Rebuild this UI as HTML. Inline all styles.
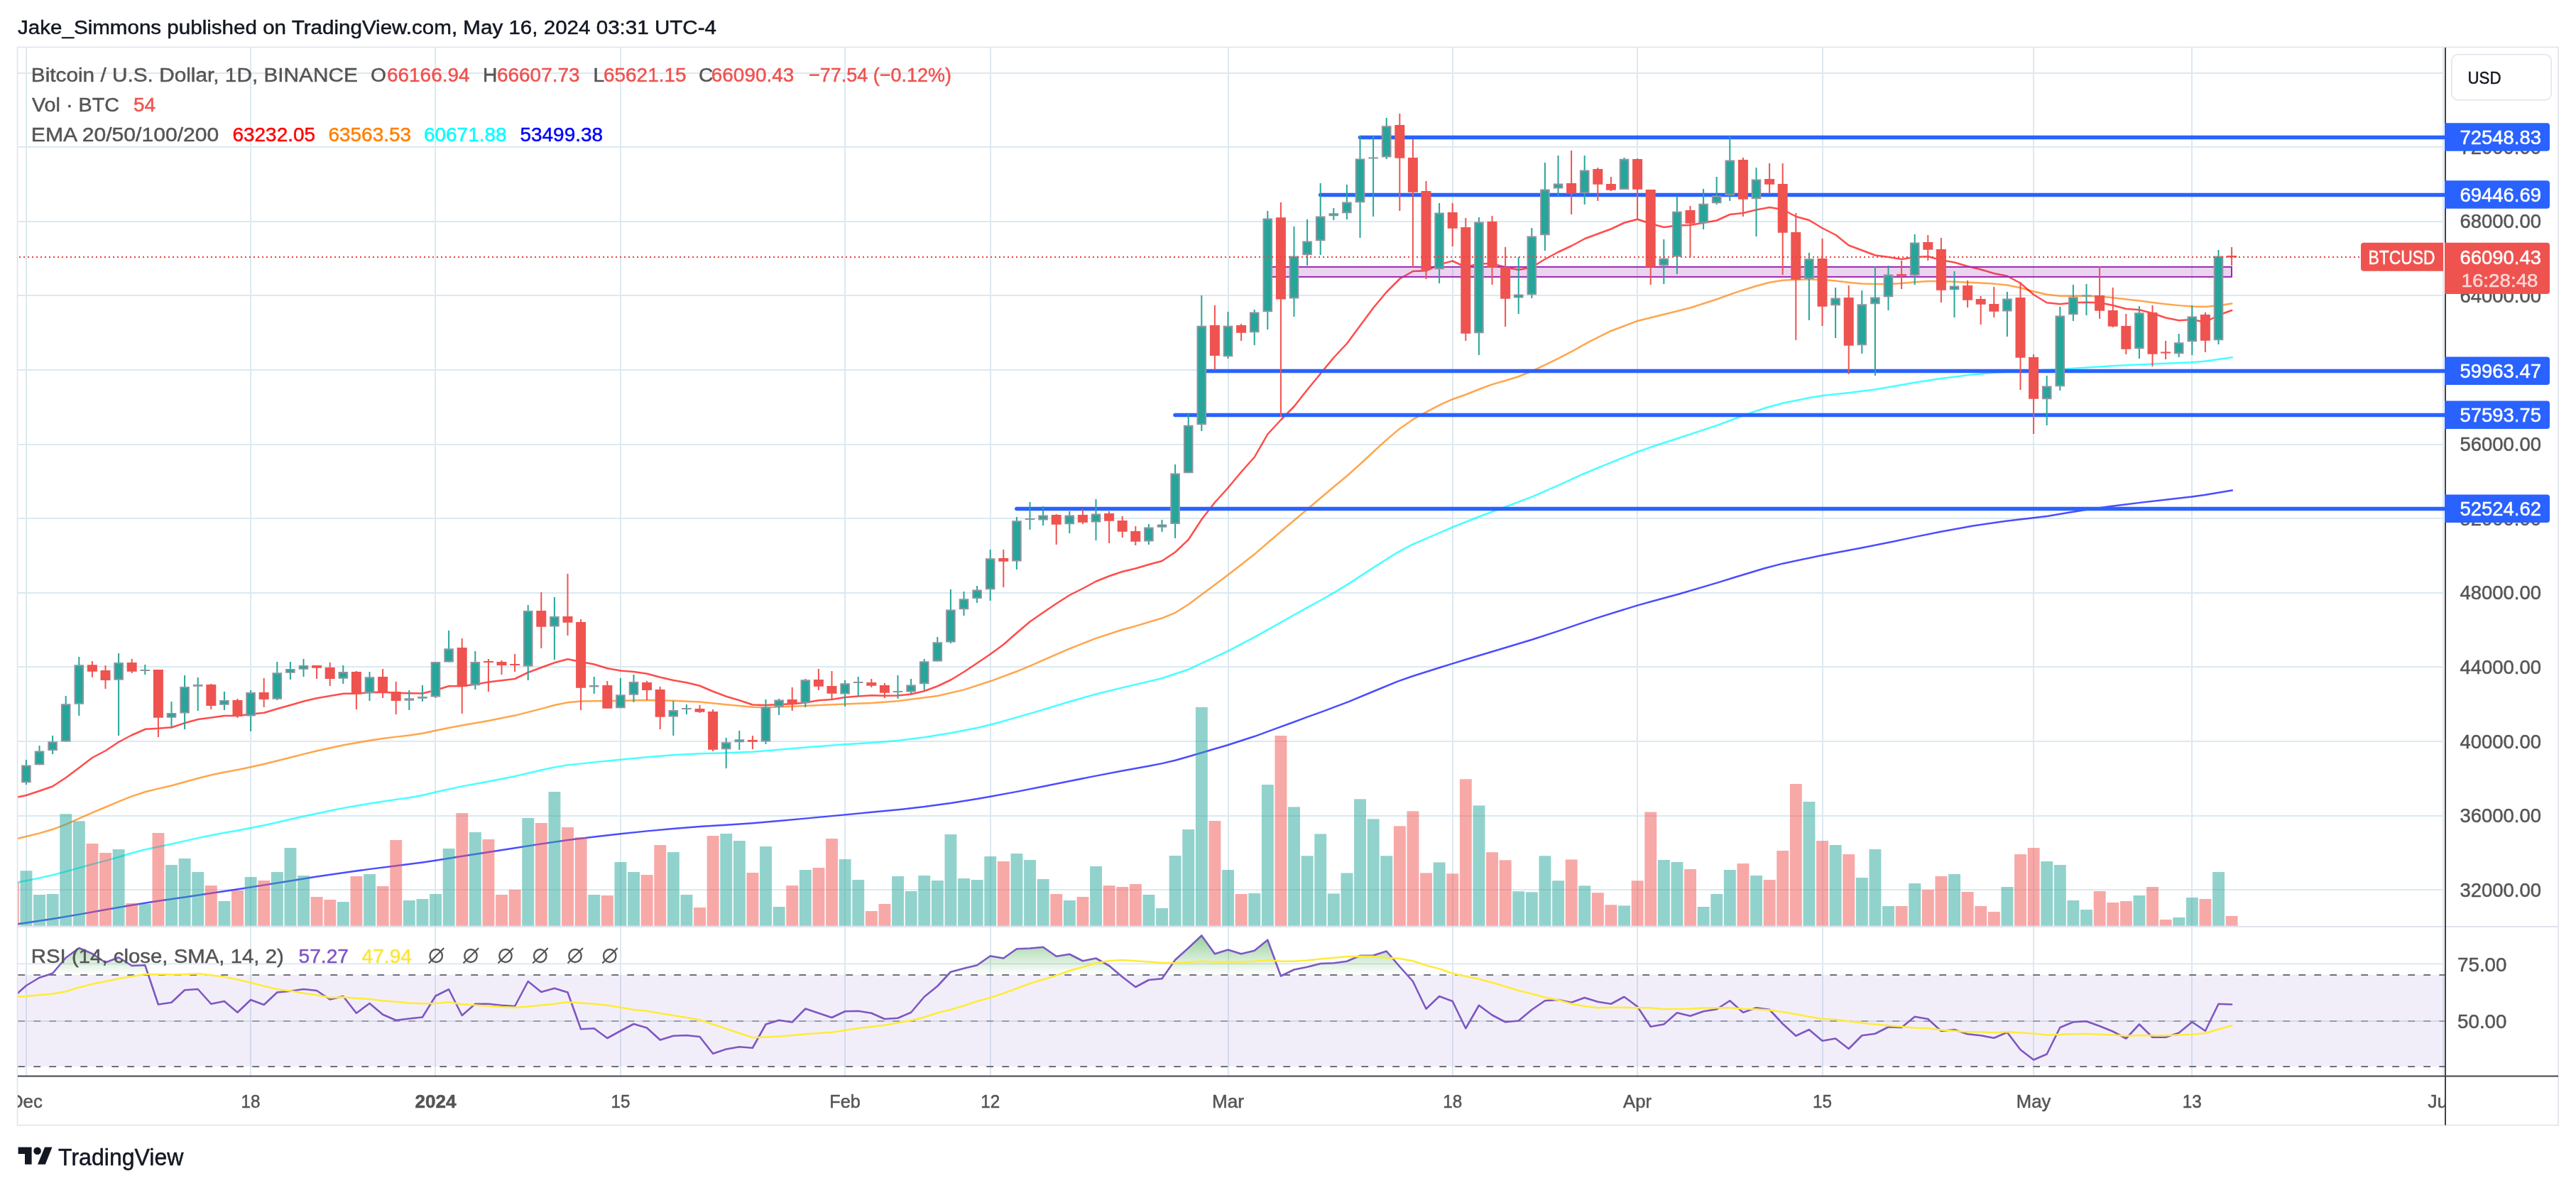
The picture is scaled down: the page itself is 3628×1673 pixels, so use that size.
<!DOCTYPE html>
<html><head><meta charset="utf-8"><title>BTCUSD chart</title>
<style>html,body{margin:0;padding:0;background:#fff;}body{width:3628px;height:1673px;overflow:hidden;}svg{display:block;will-change:transform;}text{white-space:pre;}</style></head>
<body>
<svg width="3628" height="1673" viewBox="0 0 3628 1673" font-family='"Liberation Sans", sans-serif'>
<defs>
<linearGradient id="gg" gradientUnits="userSpaceOnUse" x1="0" y1="1277" x2="0" y2="1373"><stop offset="0" stop-color="#4caf50" stop-opacity="1"/><stop offset="1" stop-color="#4caf50" stop-opacity="0"/></linearGradient>
<clipPath id="cpMain"><rect x="25" y="67" width="3419" height="1238"/></clipPath>
<clipPath id="cpRsi"><rect x="25" y="1305" width="3419" height="210.5"/></clipPath>
<clipPath id="cpTime"><rect x="25" y="1515.5" width="3418" height="69.0"/></clipPath>
<clipPath id="cp70"><rect x="25" y="1305" width="3419" height="68"/></clipPath>
</defs>
<rect width="3628" height="1673" fill="#fff"/>
<rect x="25" y="102" width="3417" height="2" fill="#dce9f1"/>
<rect x="25" y="206" width="3417" height="2" fill="#dce9f1"/>
<rect x="25" y="311" width="3417" height="2" fill="#dce9f1"/>
<rect x="25" y="415" width="3417" height="2" fill="#dce9f1"/>
<rect x="25" y="520" width="3417" height="2" fill="#dce9f1"/>
<rect x="25" y="625" width="3417" height="2" fill="#dce9f1"/>
<rect x="25" y="729" width="3417" height="2" fill="#dce9f1"/>
<rect x="25" y="834" width="3417" height="2" fill="#dce9f1"/>
<rect x="25" y="938" width="3417" height="2" fill="#dce9f1"/>
<rect x="25" y="1043" width="3417" height="2" fill="#dce9f1"/>
<rect x="25" y="1148" width="3417" height="2" fill="#dce9f1"/>
<rect x="25" y="1252" width="3417" height="2" fill="#dce9f1"/>
<rect x="25" y="1356.3" width="3417" height="2" fill="#dce9f1"/>
<rect x="25" y="1437" width="3417" height="2" fill="#dce9f1"/>
<rect x="36" y="67" width="2" height="1448.5" fill="#dce9f1"/>
<rect x="352" y="67" width="2" height="1448.5" fill="#dce9f1"/>
<rect x="612" y="67" width="2" height="1448.5" fill="#dce9f1"/>
<rect x="873" y="67" width="2" height="1448.5" fill="#dce9f1"/>
<rect x="1189" y="67" width="2" height="1448.5" fill="#dce9f1"/>
<rect x="1394" y="67" width="2" height="1448.5" fill="#dce9f1"/>
<rect x="1729" y="67" width="2" height="1448.5" fill="#dce9f1"/>
<rect x="2045" y="67" width="2" height="1448.5" fill="#dce9f1"/>
<rect x="2305" y="67" width="2" height="1448.5" fill="#dce9f1"/>
<rect x="2566" y="67" width="2" height="1448.5" fill="#dce9f1"/>
<rect x="2863" y="67" width="2" height="1448.5" fill="#dce9f1"/>
<rect x="3086" y="67" width="2" height="1448.5" fill="#dce9f1"/>
<rect x="3440" y="67" width="2" height="1448.5" fill="#dce9f1"/>
<g clip-path="url(#cpMain)">
<polyline points="25,1301.25 37,1299.55 74,1294.04 112,1287.64 149,1281.02 185,1274.71 223,1268.84 260,1263.47 298,1257.78 335,1252.19 372,1246.38 409,1240.44 446,1234.6 484,1228.9 521,1223.88 558,1219.19 595,1214.46 613.5,1211.76 650.75,1205.75 688,1199.99 725,1194.27 762.5,1188.36 799.5,1183.07 836.75,1178.5 874,1174.31 911.25,1170.37 948.25,1166.94 985.5,1164.12 1022.75,1161.81 1060,1159.31 1097.25,1156.12 1134.25,1152.63 1190,1147.38 1227.5,1143.86 1264.5,1140.26 1301.75,1136.06 1339,1130.94 1376.25,1125.03 1394.75,1121.84 1432,1114.88 1469.25,1107.5 1506.5,1099.99 1543.5,1092.64 1580.75,1085.56 1618,1078.78 1636.5,1075.14 1655.25,1070.67 1673.75,1065.58 1692.5,1059.98 1711,1054.46 1729,1049.21 1767.5,1036.8 1785,1030.4 1800,1024.93 1821.04,1017.28 1842.09,1009.41 1861.03,1002.62 1898.91,988.45 1934.68,973.49 1968.35,959.67 1989.39,952.21 2046.21,934.32 2065.15,928.54 2098.82,918.45 2157.74,900.78 2195.62,888.33 2229.29,876.82 2250.34,869.93 2305.89,852.59 2326.09,847 2363.97,836.77 2418.69,820.59 2443.94,812.75 2485.4,800.25 2511.8,793.41 2566.15,781.94 2622.05,771.42 2667.08,762.49 2698.14,755.87 2732.3,748.92 2778.88,740.56 2825.47,733.7 2863.98,729.32 2884.47,726.68 2909.32,722.58 2940.37,717.54 2974.53,712.68 3018.01,707.38 3052.17,703.54 3086.96,699.54 3104.97,697.05 3143.79,690.56" fill="none" stroke="#0000ff" stroke-width="2.5" stroke-linejoin="round" stroke-linecap="round" stroke-opacity="0.7"/>
<polyline points="25,1242.5 37,1240.28 55.75,1236.35 74,1232.23 93,1227.38 112,1221.99 130,1217.06 149,1212.12 167,1206.94 185,1201.46 205,1196.2 223,1192.42 242,1188.51 260,1184.37 279,1180.12 298,1176.2 316,1172.85 335,1169.52 353,1166.05 372,1162.19 391,1158 409,1153.75 428,1149.45 446,1145.68 465,1141.69 484,1137.89 502,1134.73 521,1131.52 539,1128.66 558,1125.88 577,1123.22 595,1119.97 613.5,1115.59 650.75,1107.38 688,1100.43 725,1093.15 762.5,1084.52 781,1080.38 799.5,1077.38 836.75,1073.38 874,1069.75 911.25,1066.18 948.25,1063.25 985.5,1061.31 1022.75,1060.31 1060,1058.81 1097.25,1055.87 1134.25,1052.58 1190.25,1048.37 1227.5,1045.93 1264.5,1042.88 1301.75,1038.31 1339,1032.19 1376.25,1024.93 1400,1019.3 1455,1003.62 1510,987.06 1543.5,977.5 1580.75,968.34 1636.5,955.23 1673.75,942.72 1729,917.15 1767.5,896.93 1785,887.1 1821.04,866.76 1842.09,855.17 1861.03,844.72 1879.97,833.88 1898.91,822.33 1934.68,799.13 1968.35,777.8 1989.39,766.66 2046.21,742.24 2065.15,734.77 2084.09,727.23 2119.87,713.8 2157.74,699.63 2195.62,683.03 2229.29,667.73 2250.34,658.78 2305.89,636.53 2326.09,629.31 2363.97,617.02 2418.63,598.86 2437.27,592.02 2462.11,582.64 2486.96,574.25 2511.8,567.58 2549.07,559.98 2566.15,557.21 2586.34,554.89 2604.97,553.03 2642.24,548.17 2667.08,544.03 2698.14,538.44 2732.3,533.14 2778.88,527.38 2806.83,524.94 2863.98,521.87 2909.32,519.46 2940.37,517.4 2974.53,515.29 3018.01,513.2 3052.17,511.76 3086.96,510.34 3104.97,508.84 3143.79,503.29" fill="none" stroke="#00ffff" stroke-width="2.5" stroke-linejoin="round" stroke-linecap="round" stroke-opacity="0.72"/>
<polyline points="25,1180.75 37,1178.04 55.75,1173.34 74,1168.06 93,1160.94 112,1152.38 130,1144.35 149,1136.52 167,1128.94 185,1121.62 205,1115.05 223,1110.61 242,1106.25 260,1101.32 279,1096 298,1091.25 316,1087.48 335,1083.95 353,1080.24 372,1075.94 391,1071.31 409,1066.69 428,1061.88 446,1057.56 465,1053.19 484,1049.2 502,1045.98 521,1042.77 539,1040.03 558,1037.62 577,1035.41 595,1032.73 614,1028.75 632,1024.97 650.75,1021.58 688,1014.93 725,1007.59 762.5,998.14 781,993 799.5,989.2 818.25,987.56 836.75,987.13 855.5,987.06 874,986.88 892.5,986.19 911.25,985.88 929.75,986.31 948.25,986.79 985.5,988.56 1022.75,992.25 1060,995.84 1078.5,996.25 1097.25,995.58 1134.25,994 1171.5,992.25 1208.75,990.83 1227.5,990.12 1265,987.26 1320.5,980 1357.5,971.39 1394.75,959.31 1432,945.53 1450.5,937.84 1469.25,929.65 1506.5,913.47 1543.5,898.84 1580.75,886.8 1599.5,881.6 1636.5,870.57 1655.25,862.78 1673.75,851.3 1692.5,837.16 1729,810.05 1767.5,779.92 1785,764.8 1878.25,685.76 1897,670.26 1915.5,653.75 1934,636.49 1952.75,619.38 1971.25,603.67 1990,590.71 2008.5,580.38 2027,570.53 2045.75,562.23 2064.25,555.77 2083,548.28 2101.5,541.33 2120.25,535.98 2138.75,530.27 2157.5,522.72 2176,513.94 2194.5,504.91 2213.25,495.22 2231.75,484.85 2240,480.34 2269,465.97 2306.25,451.94 2343.5,442.67 2380.5,433.46 2417.75,421.47 2436.5,414.66 2455,408.44 2473.5,402.71 2492.25,397.67 2510.75,394.82 2529.5,393.69 2548,393.38 2566.5,393.87 2585.25,395.51 2603.75,397.74 2622.5,399.44 2641,400.12 2659.5,400 2678.25,398.99 2696.75,397.26 2715.5,395.94 2734,395.94 2752.5,396.68 2771.25,397.63 2789.75,398.62 2808.25,399.62 2827,401.51 2845.5,405.3 2864.25,410.46 2882.75,414.74 2901.5,416.69 2920,416.81 2938.5,416.75 2957.25,417.5 2975.75,419.24 2994.5,421.44 3013,423.56 3031.5,425.93 3050.25,428.32 3068.75,430.12 3087.5,431.57 3106,431.94 3124.5,430.2 3143.25,427.5" fill="none" stroke="#ff8000" stroke-width="2.5" stroke-linejoin="round" stroke-linecap="round" stroke-opacity="0.7"/>
<polyline points="25,1122.5 37,1120 55.75,1113.75 74,1107.5 93,1095 112,1080.75 130,1067 149,1057 167,1045 185,1035.5 205,1026.75 223,1025.75 242,1024.25 260,1018.25 279,1013 298,1010.5 316,1008 335,1008 353,1005.75 372,1003.75 391,998 409,993 428,987.5 446,983.25 465,980 484,976.75 502,976.75 521,975 539,974.75 558,975.75 577,976.25 595,976.5 613.5,972 632,966.25 650.75,966.25 669.25,963.75 688,960.5 706.5,958.25 725,956 743.75,947 762.5,940 781,933.25 799.5,928.25 818.25,932 836.75,935.5 855.5,941.25 874,944.5 892.5,946 911.25,948.75 929.75,953.75 948.25,958 967,961.25 985.5,965.75 1004.25,973.75 1022.75,980.75 1041.5,986.25 1060,992.5 1078.5,993 1097.25,992 1115.75,991.25 1134.25,989.5 1153,986.25 1171.5,985 1190.25,982 1208.75,980.5 1227.5,979.25 1246,979.75 1264.5,979.5 1283.25,977.5 1301.75,973.25 1320.5,966.25 1339,957.5 1357.5,946.25 1376.25,933.75 1394.75,921.25 1413.5,907.5 1432,891.25 1450.5,875.5 1469.25,862.5 1487.75,850 1506.5,838 1525,828.75 1543.5,818.75 1562.25,811.25 1580.75,805 1599.5,800.5 1618,795 1636.5,790 1655.25,777.5 1673.75,760 1692.5,731.25 1711,707.5 1729.5,687 1748.25,664.5 1766.75,643.75 1785.5,611.25 1804,591.25 1822.5,572.5 1841.25,548.75 1859.75,526.25 1878.25,503.75 1897,483.75 1915.5,458.75 1934,433.75 1952.75,411.25 1971.5,392.5 1990,382 2008.5,381.25 2027.25,372.5 2045.75,367.5 2064.5,376.25 2083,371.25 2101.5,371.25 2120.25,376.25 2138.75,380 2157.5,376.25 2176,365 2194.5,355 2213.25,346.25 2231.75,336.25 2250.5,329.25 2269,322.5 2287.5,313.75 2306.25,308.75 2324.75,315 2343.5,320 2362,317.5 2380.5,317 2399.25,313.75 2417.75,310.5 2436.5,302 2455,300 2473.5,295.5 2492.25,292 2510.75,295 2529.5,305 2548,310 2566.5,321.25 2585.25,330.75 2603.75,345.5 2622.5,352.5 2641,359.5 2659.5,362 2678.25,365 2696.75,362 2715.5,361.25 2734,366.25 2752.5,369.5 2771.25,375 2789.75,379.5 2808.25,385 2827,388.75 2845.5,398.75 2864.25,415 2882.75,426.25 2901.5,428.25 2920,426.25 2938.5,425.75 2957.25,426.25 2975.75,430 2994.5,435 3013,436.25 3031.5,441.25 3050.25,447.5 3068.75,451.25 3087.5,450 3106,453.75 3124.5,443.75 3143.25,437" fill="none" stroke="#ff0000" stroke-width="2.5" stroke-linejoin="round" stroke-linecap="round" stroke-opacity="0.7"/>
<rect x="9.9" y="1242" width="16.9" height="61.75" fill="#ef5350" fill-opacity="0.5"/>
<rect x="28.5" y="1226.25" width="16.9" height="77.5" fill="#26a69a" fill-opacity="0.5"/>
<rect x="47.1" y="1260" width="16.9" height="43.75" fill="#26a69a" fill-opacity="0.5"/>
<rect x="65.7" y="1259" width="16.9" height="44.75" fill="#26a69a" fill-opacity="0.5"/>
<rect x="84.3" y="1146.25" width="16.9" height="157.5" fill="#26a69a" fill-opacity="0.5"/>
<rect x="102.9" y="1156.25" width="16.9" height="147.5" fill="#26a69a" fill-opacity="0.5"/>
<rect x="121.5" y="1188" width="16.9" height="115.75" fill="#ef5350" fill-opacity="0.5"/>
<rect x="140.1" y="1201" width="16.9" height="102.75" fill="#ef5350" fill-opacity="0.5"/>
<rect x="158.7" y="1196" width="16.9" height="107.75" fill="#26a69a" fill-opacity="0.5"/>
<rect x="177.3" y="1272" width="16.9" height="31.75" fill="#ef5350" fill-opacity="0.5"/>
<rect x="195.9" y="1273" width="16.9" height="30.75" fill="#26a69a" fill-opacity="0.5"/>
<rect x="214.5" y="1173" width="16.9" height="130.75" fill="#ef5350" fill-opacity="0.5"/>
<rect x="233.1" y="1218" width="16.9" height="85.75" fill="#26a69a" fill-opacity="0.5"/>
<rect x="251.7" y="1209" width="16.9" height="94.75" fill="#26a69a" fill-opacity="0.5"/>
<rect x="270.3" y="1228" width="16.9" height="75.75" fill="#26a69a" fill-opacity="0.5"/>
<rect x="288.9" y="1247" width="16.9" height="56.75" fill="#ef5350" fill-opacity="0.5"/>
<rect x="307.5" y="1269" width="16.9" height="34.75" fill="#26a69a" fill-opacity="0.5"/>
<rect x="326.1" y="1254" width="16.9" height="49.75" fill="#ef5350" fill-opacity="0.5"/>
<rect x="344.7" y="1235" width="16.9" height="68.75" fill="#26a69a" fill-opacity="0.5"/>
<rect x="363.3" y="1240" width="16.9" height="63.75" fill="#ef5350" fill-opacity="0.5"/>
<rect x="381.9" y="1228" width="16.9" height="75.75" fill="#26a69a" fill-opacity="0.5"/>
<rect x="400.5" y="1194" width="16.9" height="109.75" fill="#26a69a" fill-opacity="0.5"/>
<rect x="419.1" y="1233" width="16.9" height="70.75" fill="#26a69a" fill-opacity="0.5"/>
<rect x="437.7" y="1263" width="16.9" height="40.75" fill="#ef5350" fill-opacity="0.5"/>
<rect x="456.3" y="1267" width="16.9" height="36.75" fill="#ef5350" fill-opacity="0.5"/>
<rect x="474.9" y="1270" width="16.9" height="33.75" fill="#26a69a" fill-opacity="0.5"/>
<rect x="493.5" y="1234" width="16.9" height="69.75" fill="#ef5350" fill-opacity="0.5"/>
<rect x="512.1" y="1231" width="16.9" height="72.75" fill="#26a69a" fill-opacity="0.5"/>
<rect x="530.7" y="1248" width="16.9" height="55.75" fill="#ef5350" fill-opacity="0.5"/>
<rect x="549.3" y="1183" width="16.9" height="120.75" fill="#ef5350" fill-opacity="0.5"/>
<rect x="567.9" y="1268" width="16.9" height="35.75" fill="#26a69a" fill-opacity="0.5"/>
<rect x="586.5" y="1266" width="16.9" height="37.75" fill="#26a69a" fill-opacity="0.5"/>
<rect x="605.1" y="1259" width="16.9" height="44.75" fill="#26a69a" fill-opacity="0.5"/>
<rect x="623.7" y="1195" width="16.9" height="108.75" fill="#26a69a" fill-opacity="0.5"/>
<rect x="642.3" y="1145" width="16.9" height="158.75" fill="#ef5350" fill-opacity="0.5"/>
<rect x="660.9" y="1172" width="16.9" height="131.75" fill="#26a69a" fill-opacity="0.5"/>
<rect x="679.5" y="1182" width="16.9" height="121.75" fill="#ef5350" fill-opacity="0.5"/>
<rect x="698.1" y="1260" width="16.9" height="43.75" fill="#ef5350" fill-opacity="0.5"/>
<rect x="716.7" y="1253" width="16.9" height="50.75" fill="#ef5350" fill-opacity="0.5"/>
<rect x="735.3" y="1152" width="16.9" height="151.75" fill="#26a69a" fill-opacity="0.5"/>
<rect x="753.9" y="1159" width="16.9" height="144.75" fill="#ef5350" fill-opacity="0.5"/>
<rect x="772.5" y="1115" width="16.9" height="188.75" fill="#26a69a" fill-opacity="0.5"/>
<rect x="791.1" y="1165" width="16.9" height="138.75" fill="#ef5350" fill-opacity="0.5"/>
<rect x="809.7" y="1179" width="16.9" height="124.75" fill="#ef5350" fill-opacity="0.5"/>
<rect x="828.3" y="1260" width="16.9" height="43.75" fill="#26a69a" fill-opacity="0.5"/>
<rect x="846.9" y="1261" width="16.9" height="42.75" fill="#ef5350" fill-opacity="0.5"/>
<rect x="865.5" y="1214" width="16.9" height="89.75" fill="#26a69a" fill-opacity="0.5"/>
<rect x="884.1" y="1228" width="16.9" height="75.75" fill="#26a69a" fill-opacity="0.5"/>
<rect x="902.7" y="1232" width="16.9" height="71.75" fill="#ef5350" fill-opacity="0.5"/>
<rect x="921.3" y="1190" width="16.9" height="113.75" fill="#ef5350" fill-opacity="0.5"/>
<rect x="939.9" y="1200" width="16.9" height="103.75" fill="#26a69a" fill-opacity="0.5"/>
<rect x="958.5" y="1260" width="16.9" height="43.75" fill="#26a69a" fill-opacity="0.5"/>
<rect x="977.1" y="1278" width="16.9" height="25.75" fill="#ef5350" fill-opacity="0.5"/>
<rect x="995.7" y="1177" width="16.9" height="126.75" fill="#ef5350" fill-opacity="0.5"/>
<rect x="1014.3" y="1174" width="16.9" height="129.75" fill="#26a69a" fill-opacity="0.5"/>
<rect x="1032.9" y="1184" width="16.9" height="119.75" fill="#26a69a" fill-opacity="0.5"/>
<rect x="1051.5" y="1229" width="16.9" height="74.75" fill="#ef5350" fill-opacity="0.5"/>
<rect x="1070.1" y="1192" width="16.9" height="111.75" fill="#26a69a" fill-opacity="0.5"/>
<rect x="1088.7" y="1277" width="16.9" height="26.75" fill="#26a69a" fill-opacity="0.5"/>
<rect x="1107.3" y="1247" width="16.9" height="56.75" fill="#ef5350" fill-opacity="0.5"/>
<rect x="1125.9" y="1225" width="16.9" height="78.75" fill="#26a69a" fill-opacity="0.5"/>
<rect x="1144.5" y="1222" width="16.9" height="81.75" fill="#ef5350" fill-opacity="0.5"/>
<rect x="1163.1" y="1181" width="16.9" height="122.75" fill="#ef5350" fill-opacity="0.5"/>
<rect x="1181.7" y="1210" width="16.9" height="93.75" fill="#26a69a" fill-opacity="0.5"/>
<rect x="1200.3" y="1239" width="16.9" height="64.75" fill="#26a69a" fill-opacity="0.5"/>
<rect x="1218.9" y="1283" width="16.9" height="20.75" fill="#ef5350" fill-opacity="0.5"/>
<rect x="1237.5" y="1273" width="16.9" height="30.75" fill="#ef5350" fill-opacity="0.5"/>
<rect x="1256.1" y="1234" width="16.9" height="69.75" fill="#26a69a" fill-opacity="0.5"/>
<rect x="1274.7" y="1255" width="16.9" height="48.75" fill="#26a69a" fill-opacity="0.5"/>
<rect x="1293.3" y="1233" width="16.9" height="70.75" fill="#26a69a" fill-opacity="0.5"/>
<rect x="1311.9" y="1240" width="16.9" height="63.75" fill="#26a69a" fill-opacity="0.5"/>
<rect x="1330.5" y="1175" width="16.9" height="128.75" fill="#26a69a" fill-opacity="0.5"/>
<rect x="1349.1" y="1237" width="16.9" height="66.75" fill="#26a69a" fill-opacity="0.5"/>
<rect x="1367.7" y="1239" width="16.9" height="64.75" fill="#26a69a" fill-opacity="0.5"/>
<rect x="1386.3" y="1206" width="16.9" height="97.75" fill="#26a69a" fill-opacity="0.5"/>
<rect x="1404.9" y="1213" width="16.9" height="90.75" fill="#ef5350" fill-opacity="0.5"/>
<rect x="1423.5" y="1202" width="16.9" height="101.75" fill="#26a69a" fill-opacity="0.5"/>
<rect x="1442.1" y="1211" width="16.9" height="92.75" fill="#26a69a" fill-opacity="0.5"/>
<rect x="1460.7" y="1238" width="16.9" height="65.75" fill="#26a69a" fill-opacity="0.5"/>
<rect x="1479.3" y="1259" width="16.9" height="44.75" fill="#ef5350" fill-opacity="0.5"/>
<rect x="1497.9" y="1268" width="16.9" height="35.75" fill="#26a69a" fill-opacity="0.5"/>
<rect x="1516.5" y="1263" width="16.9" height="40.75" fill="#ef5350" fill-opacity="0.5"/>
<rect x="1535.1" y="1220" width="16.9" height="83.75" fill="#26a69a" fill-opacity="0.5"/>
<rect x="1553.7" y="1247" width="16.9" height="56.75" fill="#ef5350" fill-opacity="0.5"/>
<rect x="1572.3" y="1249" width="16.9" height="54.75" fill="#ef5350" fill-opacity="0.5"/>
<rect x="1590.9" y="1245" width="16.9" height="58.75" fill="#ef5350" fill-opacity="0.5"/>
<rect x="1609.5" y="1260" width="16.9" height="43.75" fill="#26a69a" fill-opacity="0.5"/>
<rect x="1628.1" y="1279" width="16.9" height="24.75" fill="#26a69a" fill-opacity="0.5"/>
<rect x="1646.7" y="1205" width="16.9" height="98.75" fill="#26a69a" fill-opacity="0.5"/>
<rect x="1665.3" y="1168" width="16.9" height="135.75" fill="#26a69a" fill-opacity="0.5"/>
<rect x="1683.9" y="995.9" width="16.9" height="307.85" fill="#26a69a" fill-opacity="0.5"/>
<rect x="1702.5" y="1156" width="16.9" height="147.75" fill="#ef5350" fill-opacity="0.5"/>
<rect x="1721.1" y="1225" width="16.9" height="78.75" fill="#26a69a" fill-opacity="0.5"/>
<rect x="1739.7" y="1259" width="16.9" height="44.75" fill="#ef5350" fill-opacity="0.5"/>
<rect x="1758.3" y="1258" width="16.9" height="45.75" fill="#26a69a" fill-opacity="0.5"/>
<rect x="1776.9" y="1105" width="16.9" height="198.75" fill="#26a69a" fill-opacity="0.5"/>
<rect x="1795.5" y="1036" width="16.9" height="267.75" fill="#ef5350" fill-opacity="0.5"/>
<rect x="1814.1" y="1136.37" width="16.9" height="167.38" fill="#26a69a" fill-opacity="0.5"/>
<rect x="1832.7" y="1205.31" width="16.9" height="98.44" fill="#26a69a" fill-opacity="0.5"/>
<rect x="1851.3" y="1174.39" width="16.9" height="129.36" fill="#26a69a" fill-opacity="0.5"/>
<rect x="1869.9" y="1258.36" width="16.9" height="45.39" fill="#26a69a" fill-opacity="0.5"/>
<rect x="1888.5" y="1229.42" width="16.9" height="74.33" fill="#26a69a" fill-opacity="0.5"/>
<rect x="1907.1" y="1125.31" width="16.9" height="178.44" fill="#26a69a" fill-opacity="0.5"/>
<rect x="1925.7" y="1153.4" width="16.9" height="150.35" fill="#26a69a" fill-opacity="0.5"/>
<rect x="1944.3" y="1205.31" width="16.9" height="98.44" fill="#26a69a" fill-opacity="0.5"/>
<rect x="1962.9" y="1163.32" width="16.9" height="140.43" fill="#ef5350" fill-opacity="0.5"/>
<rect x="1981.5" y="1142.33" width="16.9" height="161.42" fill="#ef5350" fill-opacity="0.5"/>
<rect x="2000.1" y="1229.42" width="16.9" height="74.33" fill="#ef5350" fill-opacity="0.5"/>
<rect x="2018.7" y="1214.39" width="16.9" height="89.36" fill="#26a69a" fill-opacity="0.5"/>
<rect x="2037.3" y="1230.27" width="16.9" height="73.48" fill="#ef5350" fill-opacity="0.5"/>
<rect x="2055.9" y="1097.23" width="16.9" height="206.52" fill="#ef5350" fill-opacity="0.5"/>
<rect x="2074.5" y="1134.39" width="16.9" height="169.36" fill="#26a69a" fill-opacity="0.5"/>
<rect x="2093.1" y="1200.2" width="16.9" height="103.55" fill="#ef5350" fill-opacity="0.5"/>
<rect x="2111.7" y="1211.27" width="16.9" height="92.48" fill="#ef5350" fill-opacity="0.5"/>
<rect x="2130.3" y="1255.24" width="16.9" height="48.51" fill="#26a69a" fill-opacity="0.5"/>
<rect x="2148.9" y="1256.37" width="16.9" height="47.38" fill="#26a69a" fill-opacity="0.5"/>
<rect x="2167.5" y="1205.31" width="16.9" height="98.44" fill="#26a69a" fill-opacity="0.5"/>
<rect x="2186.1" y="1240.2" width="16.9" height="63.55" fill="#26a69a" fill-opacity="0.5"/>
<rect x="2204.7" y="1210.42" width="16.9" height="93.33" fill="#ef5350" fill-opacity="0.5"/>
<rect x="2223.3" y="1247.3" width="16.9" height="56.45" fill="#26a69a" fill-opacity="0.5"/>
<rect x="2241.9" y="1257.23" width="16.9" height="46.52" fill="#ef5350" fill-opacity="0.5"/>
<rect x="2260.5" y="1274.25" width="16.9" height="29.5" fill="#ef5350" fill-opacity="0.5"/>
<rect x="2279.1" y="1275.38" width="16.9" height="28.37" fill="#26a69a" fill-opacity="0.5"/>
<rect x="2297.7" y="1240.2" width="16.9" height="63.55" fill="#ef5350" fill-opacity="0.5"/>
<rect x="2316.3" y="1143.47" width="16.9" height="160.28" fill="#ef5350" fill-opacity="0.5"/>
<rect x="2334.9" y="1211" width="16.9" height="92.75" fill="#26a69a" fill-opacity="0.5"/>
<rect x="2353.5" y="1214" width="16.9" height="89.75" fill="#26a69a" fill-opacity="0.5"/>
<rect x="2372.1" y="1224" width="16.9" height="79.75" fill="#ef5350" fill-opacity="0.5"/>
<rect x="2390.7" y="1277" width="16.9" height="26.75" fill="#26a69a" fill-opacity="0.5"/>
<rect x="2409.3" y="1259" width="16.9" height="44.75" fill="#26a69a" fill-opacity="0.5"/>
<rect x="2427.9" y="1225" width="16.9" height="78.75" fill="#26a69a" fill-opacity="0.5"/>
<rect x="2446.5" y="1216" width="16.9" height="87.75" fill="#ef5350" fill-opacity="0.5"/>
<rect x="2465.1" y="1233" width="16.9" height="70.75" fill="#26a69a" fill-opacity="0.5"/>
<rect x="2483.7" y="1239" width="16.9" height="64.75" fill="#ef5350" fill-opacity="0.5"/>
<rect x="2502.3" y="1198" width="16.9" height="105.75" fill="#ef5350" fill-opacity="0.5"/>
<rect x="2520.9" y="1104" width="16.9" height="199.75" fill="#ef5350" fill-opacity="0.5"/>
<rect x="2539.5" y="1129" width="16.9" height="174.75" fill="#26a69a" fill-opacity="0.5"/>
<rect x="2558.1" y="1184" width="16.9" height="119.75" fill="#ef5350" fill-opacity="0.5"/>
<rect x="2576.7" y="1190" width="16.9" height="113.75" fill="#26a69a" fill-opacity="0.5"/>
<rect x="2595.3" y="1203" width="16.9" height="100.75" fill="#ef5350" fill-opacity="0.5"/>
<rect x="2613.9" y="1236" width="16.9" height="67.75" fill="#26a69a" fill-opacity="0.5"/>
<rect x="2632.5" y="1196" width="16.9" height="107.75" fill="#26a69a" fill-opacity="0.5"/>
<rect x="2651.1" y="1276" width="16.9" height="27.75" fill="#26a69a" fill-opacity="0.5"/>
<rect x="2669.7" y="1276" width="16.9" height="27.75" fill="#ef5350" fill-opacity="0.5"/>
<rect x="2688.3" y="1244" width="16.9" height="59.75" fill="#26a69a" fill-opacity="0.5"/>
<rect x="2706.9" y="1253" width="16.9" height="50.75" fill="#ef5350" fill-opacity="0.5"/>
<rect x="2725.5" y="1234" width="16.9" height="69.75" fill="#ef5350" fill-opacity="0.5"/>
<rect x="2744.1" y="1231" width="16.9" height="72.75" fill="#26a69a" fill-opacity="0.5"/>
<rect x="2762.7" y="1256" width="16.9" height="47.75" fill="#ef5350" fill-opacity="0.5"/>
<rect x="2781.3" y="1276" width="16.9" height="27.75" fill="#ef5350" fill-opacity="0.5"/>
<rect x="2799.9" y="1284" width="16.9" height="19.75" fill="#ef5350" fill-opacity="0.5"/>
<rect x="2818.5" y="1249" width="16.9" height="54.75" fill="#26a69a" fill-opacity="0.5"/>
<rect x="2837.1" y="1203" width="16.9" height="100.75" fill="#ef5350" fill-opacity="0.5"/>
<rect x="2855.7" y="1194" width="16.9" height="109.75" fill="#ef5350" fill-opacity="0.5"/>
<rect x="2874.3" y="1213" width="16.9" height="90.75" fill="#26a69a" fill-opacity="0.5"/>
<rect x="2892.9" y="1218" width="16.9" height="85.75" fill="#26a69a" fill-opacity="0.5"/>
<rect x="2911.5" y="1268" width="16.9" height="35.75" fill="#26a69a" fill-opacity="0.5"/>
<rect x="2930.1" y="1281" width="16.9" height="22.75" fill="#26a69a" fill-opacity="0.5"/>
<rect x="2948.7" y="1255" width="16.9" height="48.75" fill="#ef5350" fill-opacity="0.5"/>
<rect x="2967.3" y="1271" width="16.9" height="32.75" fill="#ef5350" fill-opacity="0.5"/>
<rect x="2985.9" y="1269" width="16.9" height="34.75" fill="#ef5350" fill-opacity="0.5"/>
<rect x="3004.5" y="1261" width="16.9" height="42.75" fill="#26a69a" fill-opacity="0.5"/>
<rect x="3023.1" y="1249" width="16.9" height="54.75" fill="#ef5350" fill-opacity="0.5"/>
<rect x="3041.7" y="1295" width="16.9" height="8.75" fill="#ef5350" fill-opacity="0.5"/>
<rect x="3060.3" y="1292" width="16.9" height="11.75" fill="#26a69a" fill-opacity="0.5"/>
<rect x="3078.9" y="1264" width="16.9" height="39.75" fill="#26a69a" fill-opacity="0.5"/>
<rect x="3097.5" y="1266" width="16.9" height="37.75" fill="#ef5350" fill-opacity="0.5"/>
<rect x="3116.1" y="1228" width="16.9" height="75.75" fill="#26a69a" fill-opacity="0.5"/>
<rect x="3134.7" y="1290" width="16.9" height="13.75" fill="#ef5350" fill-opacity="0.5"/>
<line x1="1915.5" y1="193.5" x2="3444" y2="193.5" stroke="#2962ff" stroke-width="5.6" stroke-linecap="round"/>
<line x1="1859.7" y1="274.5" x2="3444" y2="274.5" stroke="#2962ff" stroke-width="5.6" stroke-linecap="round"/>
<line x1="1692.3" y1="522.5" x2="3444" y2="522.5" stroke="#2962ff" stroke-width="5.6" stroke-linecap="round"/>
<line x1="1655.1" y1="584.5" x2="3444" y2="584.5" stroke="#2962ff" stroke-width="5.6" stroke-linecap="round"/>
<line x1="1431.9" y1="716.5" x2="3444" y2="716.5" stroke="#2962ff" stroke-width="5.6" stroke-linecap="round"/>
<rect x="1785.3" y="375.9" width="1357.7" height="14" fill="#9c27b0" fill-opacity="0.2" stroke="#9c27b0" stroke-width="2"/>
<rect x="35.9" y="1070" width="2" height="35" fill="#26a69a"/>
<rect x="30.1" y="1077.5" width="13.6" height="24.75" fill="#9194a0"/>
<rect x="32" y="1079.5" width="9.8" height="20.75" fill="#26a69a"/>
<rect x="54.5" y="1050" width="2" height="27.25" fill="#26a69a"/>
<rect x="48.7" y="1057.5" width="13.6" height="19.75" fill="#9194a0"/>
<rect x="50.6" y="1059.5" width="9.8" height="15.75" fill="#26a69a"/>
<rect x="73.1" y="1036" width="2" height="26" fill="#26a69a"/>
<rect x="67.3" y="1044.25" width="13.6" height="12.75" fill="#9194a0"/>
<rect x="69.2" y="1046.25" width="9.8" height="8.75" fill="#26a69a"/>
<rect x="91.7" y="980" width="2" height="64.5" fill="#26a69a"/>
<rect x="85.9" y="991.25" width="13.6" height="53.25" fill="#9194a0"/>
<rect x="87.8" y="993.25" width="9.8" height="49.25" fill="#26a69a"/>
<rect x="110.3" y="925" width="2" height="83" fill="#26a69a"/>
<rect x="104.5" y="936.25" width="13.6" height="55.5" fill="#9194a0"/>
<rect x="106.4" y="938.25" width="9.8" height="51.5" fill="#26a69a"/>
<rect x="128.9" y="931" width="2" height="22.75" fill="#ef5350"/>
<rect x="122.9" y="936.25" width="14" height="9.5" fill="#ef5350"/>
<rect x="147.5" y="937" width="2" height="33" fill="#ef5350"/>
<rect x="141.5" y="944" width="14" height="14" fill="#ef5350"/>
<rect x="166.1" y="920" width="2" height="116" fill="#26a69a"/>
<rect x="160.3" y="933" width="13.6" height="24.75" fill="#9194a0"/>
<rect x="162.2" y="935" width="9.8" height="20.75" fill="#26a69a"/>
<rect x="184.7" y="928" width="2" height="20" fill="#ef5350"/>
<rect x="178.7" y="933" width="14" height="12.75" fill="#ef5350"/>
<rect x="203.3" y="936" width="2" height="14" fill="#26a69a"/>
<rect x="197.5" y="943" width="13.6" height="2" fill="#9194a0"/>
<rect x="221.9" y="943" width="2" height="95" fill="#ef5350"/>
<rect x="215.9" y="943" width="14" height="67.75" fill="#ef5350"/>
<rect x="240.5" y="988" width="2" height="38" fill="#26a69a"/>
<rect x="234.7" y="1004" width="13.6" height="6.75" fill="#9194a0"/>
<rect x="236.6" y="1005.5" width="9.8" height="3.75" fill="#26a69a"/>
<rect x="259.1" y="951" width="2" height="76" fill="#26a69a"/>
<rect x="253.3" y="967" width="13.6" height="37.5" fill="#9194a0"/>
<rect x="255.2" y="969" width="9.8" height="33.5" fill="#26a69a"/>
<rect x="277.7" y="954" width="2" height="47" fill="#26a69a"/>
<rect x="271.9" y="964" width="13.6" height="2.75" fill="#9194a0"/>
<rect x="296.3" y="963" width="2" height="36" fill="#ef5350"/>
<rect x="290.3" y="964" width="14" height="30" fill="#ef5350"/>
<rect x="314.9" y="974" width="2" height="26" fill="#26a69a"/>
<rect x="309.1" y="986" width="13.6" height="6.75" fill="#9194a0"/>
<rect x="311" y="987.5" width="9.8" height="3.75" fill="#26a69a"/>
<rect x="333.5" y="984" width="2" height="27" fill="#ef5350"/>
<rect x="327.5" y="986" width="14" height="22.75" fill="#ef5350"/>
<rect x="352.1" y="972" width="2" height="58" fill="#26a69a"/>
<rect x="346.3" y="975" width="13.6" height="33.5" fill="#9194a0"/>
<rect x="348.2" y="977" width="9.8" height="29.5" fill="#26a69a"/>
<rect x="370.7" y="955" width="2" height="41" fill="#ef5350"/>
<rect x="364.7" y="975" width="14" height="10" fill="#ef5350"/>
<rect x="389.3" y="932" width="2" height="54" fill="#26a69a"/>
<rect x="383.5" y="947.25" width="13.6" height="37.5" fill="#9194a0"/>
<rect x="385.4" y="949.25" width="9.8" height="33.5" fill="#26a69a"/>
<rect x="407.9" y="932" width="2" height="25" fill="#26a69a"/>
<rect x="402.1" y="942" width="13.6" height="5.75" fill="#9194a0"/>
<rect x="404" y="943.5" width="9.8" height="2.75" fill="#26a69a"/>
<rect x="426.5" y="928" width="2" height="25" fill="#26a69a"/>
<rect x="420.7" y="937" width="13.6" height="5.75" fill="#9194a0"/>
<rect x="422.6" y="938.5" width="9.8" height="2.75" fill="#26a69a"/>
<rect x="445.1" y="937" width="2" height="19" fill="#ef5350"/>
<rect x="439.1" y="937" width="14" height="3.75" fill="#ef5350"/>
<rect x="463.7" y="933" width="2" height="33" fill="#ef5350"/>
<rect x="457.7" y="940" width="14" height="16" fill="#ef5350"/>
<rect x="482.3" y="937" width="2" height="26" fill="#26a69a"/>
<rect x="476.5" y="946" width="13.6" height="9.75" fill="#9194a0"/>
<rect x="478.4" y="948" width="9.8" height="5.75" fill="#26a69a"/>
<rect x="500.9" y="945" width="2" height="54" fill="#ef5350"/>
<rect x="494.9" y="946" width="14" height="31.5" fill="#ef5350"/>
<rect x="519.5" y="946" width="2" height="41" fill="#26a69a"/>
<rect x="513.7" y="953.25" width="13.6" height="23" fill="#9194a0"/>
<rect x="515.6" y="955.25" width="9.8" height="19" fill="#26a69a"/>
<rect x="538.1" y="942" width="2" height="41" fill="#ef5350"/>
<rect x="532.1" y="953" width="14" height="22" fill="#ef5350"/>
<rect x="556.7" y="960" width="2" height="46" fill="#ef5350"/>
<rect x="550.7" y="974" width="14" height="13" fill="#ef5350"/>
<rect x="575.3" y="972" width="2" height="28" fill="#26a69a"/>
<rect x="569.5" y="983.25" width="13.6" height="3.5" fill="#9194a0"/>
<rect x="593.9" y="965" width="2" height="23" fill="#26a69a"/>
<rect x="588.1" y="981" width="13.6" height="2.75" fill="#9194a0"/>
<rect x="612.5" y="932" width="2" height="51" fill="#26a69a"/>
<rect x="606.7" y="932" width="13.6" height="49.5" fill="#9194a0"/>
<rect x="608.6" y="934" width="9.8" height="45.5" fill="#26a69a"/>
<rect x="631.1" y="888" width="2" height="44.5" fill="#26a69a"/>
<rect x="625.3" y="913.25" width="13.6" height="19.25" fill="#9194a0"/>
<rect x="627.2" y="915.25" width="9.8" height="15.25" fill="#26a69a"/>
<rect x="649.7" y="899" width="2" height="106" fill="#ef5350"/>
<rect x="643.7" y="912" width="14" height="55" fill="#ef5350"/>
<rect x="668.3" y="917" width="2" height="54" fill="#26a69a"/>
<rect x="662.5" y="932" width="13.6" height="33.25" fill="#9194a0"/>
<rect x="664.4" y="934" width="9.8" height="29.25" fill="#26a69a"/>
<rect x="686.9" y="928" width="2" height="46" fill="#ef5350"/>
<rect x="680.9" y="931" width="14" height="2" fill="#ef5350"/>
<rect x="705.5" y="930" width="2" height="20" fill="#ef5350"/>
<rect x="699.5" y="932" width="14" height="5" fill="#ef5350"/>
<rect x="724.1" y="921" width="2" height="25" fill="#ef5350"/>
<rect x="718.1" y="935" width="14" height="2" fill="#ef5350"/>
<rect x="742.7" y="852" width="2" height="106" fill="#26a69a"/>
<rect x="736.9" y="860" width="13.6" height="78.5" fill="#9194a0"/>
<rect x="738.8" y="862" width="9.8" height="74.5" fill="#26a69a"/>
<rect x="761.3" y="834" width="2" height="79" fill="#ef5350"/>
<rect x="755.3" y="860" width="14" height="22.75" fill="#ef5350"/>
<rect x="779.9" y="841" width="2" height="88" fill="#26a69a"/>
<rect x="774.1" y="868" width="13.6" height="14.5" fill="#9194a0"/>
<rect x="776" y="870" width="9.8" height="10.5" fill="#26a69a"/>
<rect x="798.5" y="808" width="2" height="87" fill="#ef5350"/>
<rect x="792.5" y="868" width="14" height="8.75" fill="#ef5350"/>
<rect x="817.1" y="872" width="2" height="128" fill="#ef5350"/>
<rect x="811.1" y="876" width="14" height="92.75" fill="#ef5350"/>
<rect x="835.7" y="953" width="2" height="24" fill="#26a69a"/>
<rect x="829.9" y="965" width="13.6" height="2.5" fill="#9194a0"/>
<rect x="854.3" y="959" width="2" height="38.75" fill="#ef5350"/>
<rect x="848.3" y="965" width="14" height="32.75" fill="#ef5350"/>
<rect x="872.9" y="955" width="2" height="42.25" fill="#26a69a"/>
<rect x="867.1" y="978.25" width="13.6" height="19" fill="#9194a0"/>
<rect x="869" y="980.25" width="9.8" height="15" fill="#26a69a"/>
<rect x="891.5" y="950" width="2" height="39" fill="#26a69a"/>
<rect x="885.7" y="960" width="13.6" height="18.75" fill="#9194a0"/>
<rect x="887.6" y="962" width="9.8" height="14.75" fill="#26a69a"/>
<rect x="910.1" y="959" width="2" height="27" fill="#ef5350"/>
<rect x="904.1" y="961" width="14" height="11" fill="#ef5350"/>
<rect x="928.7" y="967" width="2" height="60" fill="#ef5350"/>
<rect x="922.7" y="971" width="14" height="38.75" fill="#ef5350"/>
<rect x="947.3" y="987" width="2" height="49" fill="#26a69a"/>
<rect x="941.5" y="1000" width="13.6" height="9.5" fill="#9194a0"/>
<rect x="943.4" y="1002" width="9.8" height="5.5" fill="#26a69a"/>
<rect x="965.9" y="992" width="2" height="14" fill="#26a69a"/>
<rect x="960.1" y="997" width="13.6" height="2" fill="#9194a0"/>
<rect x="984.5" y="993" width="2" height="11" fill="#ef5350"/>
<rect x="978.5" y="998" width="14" height="4.75" fill="#ef5350"/>
<rect x="1003.1" y="999" width="2" height="59" fill="#ef5350"/>
<rect x="997.1" y="1002" width="14" height="53.75" fill="#ef5350"/>
<rect x="1021.7" y="1039" width="2" height="43" fill="#26a69a"/>
<rect x="1015.9" y="1045.25" width="13.6" height="10" fill="#9194a0"/>
<rect x="1017.8" y="1047.25" width="9.8" height="6" fill="#26a69a"/>
<rect x="1040.3" y="1029" width="2" height="27" fill="#26a69a"/>
<rect x="1034.5" y="1041.25" width="13.6" height="4" fill="#9194a0"/>
<rect x="1036.4" y="1042.75" width="9.8" height="1" fill="#26a69a"/>
<rect x="1058.9" y="1036" width="2" height="19" fill="#ef5350"/>
<rect x="1052.9" y="1042" width="14" height="2.75" fill="#ef5350"/>
<rect x="1077.5" y="985" width="2" height="63" fill="#26a69a"/>
<rect x="1071.7" y="995.5" width="13.6" height="49" fill="#9194a0"/>
<rect x="1073.6" y="997.5" width="9.8" height="45" fill="#26a69a"/>
<rect x="1096.1" y="984" width="2" height="23" fill="#26a69a"/>
<rect x="1090.3" y="985.5" width="13.6" height="10" fill="#9194a0"/>
<rect x="1092.2" y="987.5" width="9.8" height="6" fill="#26a69a"/>
<rect x="1114.7" y="968" width="2" height="33" fill="#ef5350"/>
<rect x="1108.7" y="985" width="14" height="6.25" fill="#ef5350"/>
<rect x="1133.3" y="956" width="2" height="40" fill="#26a69a"/>
<rect x="1127.5" y="957.25" width="13.6" height="33" fill="#9194a0"/>
<rect x="1129.4" y="959.25" width="9.8" height="29" fill="#26a69a"/>
<rect x="1151.9" y="942" width="2" height="30" fill="#ef5350"/>
<rect x="1145.9" y="957" width="14" height="9.75" fill="#ef5350"/>
<rect x="1170.5" y="945" width="2" height="39" fill="#ef5350"/>
<rect x="1164.5" y="966" width="14" height="10.75" fill="#ef5350"/>
<rect x="1189.1" y="958" width="2" height="37" fill="#26a69a"/>
<rect x="1183.3" y="962.25" width="13.6" height="15.25" fill="#9194a0"/>
<rect x="1185.2" y="964.25" width="9.8" height="11.25" fill="#26a69a"/>
<rect x="1207.7" y="953" width="2" height="28" fill="#26a69a"/>
<rect x="1201.9" y="960" width="13.6" height="2" fill="#9194a0"/>
<rect x="1226.3" y="956" width="2" height="12" fill="#ef5350"/>
<rect x="1220.3" y="961" width="14" height="4.75" fill="#ef5350"/>
<rect x="1244.9" y="962" width="2" height="21" fill="#ef5350"/>
<rect x="1238.9" y="965" width="14" height="10.75" fill="#ef5350"/>
<rect x="1263.5" y="951" width="2" height="33" fill="#26a69a"/>
<rect x="1257.7" y="973" width="13.6" height="2" fill="#9194a0"/>
<rect x="1282.1" y="956" width="2" height="21" fill="#26a69a"/>
<rect x="1276.3" y="964.5" width="13.6" height="10" fill="#9194a0"/>
<rect x="1278.2" y="966.5" width="9.8" height="6" fill="#26a69a"/>
<rect x="1300.7" y="928" width="2" height="44" fill="#26a69a"/>
<rect x="1294.9" y="931.25" width="13.6" height="32" fill="#9194a0"/>
<rect x="1296.8" y="933.25" width="9.8" height="28" fill="#26a69a"/>
<rect x="1319.3" y="897" width="2" height="34.5" fill="#26a69a"/>
<rect x="1313.5" y="904.25" width="13.6" height="27.25" fill="#9194a0"/>
<rect x="1315.4" y="906.25" width="9.8" height="23.25" fill="#26a69a"/>
<rect x="1337.9" y="830" width="2" height="76" fill="#26a69a"/>
<rect x="1332.1" y="858.5" width="13.6" height="46" fill="#9194a0"/>
<rect x="1334" y="860.5" width="9.8" height="42" fill="#26a69a"/>
<rect x="1356.5" y="833" width="2" height="34" fill="#26a69a"/>
<rect x="1350.7" y="843.25" width="13.6" height="15" fill="#9194a0"/>
<rect x="1352.6" y="845.25" width="9.8" height="11" fill="#26a69a"/>
<rect x="1375.1" y="825" width="2" height="24" fill="#26a69a"/>
<rect x="1369.3" y="830.5" width="13.6" height="12.5" fill="#9194a0"/>
<rect x="1371.2" y="832.5" width="9.8" height="8.5" fill="#26a69a"/>
<rect x="1393.7" y="774" width="2" height="72" fill="#26a69a"/>
<rect x="1387.9" y="786.25" width="13.6" height="44" fill="#9194a0"/>
<rect x="1389.8" y="788.25" width="9.8" height="40" fill="#26a69a"/>
<rect x="1412.3" y="774" width="2" height="53" fill="#ef5350"/>
<rect x="1406.3" y="786" width="14" height="4.75" fill="#ef5350"/>
<rect x="1430.9" y="728" width="2" height="74" fill="#26a69a"/>
<rect x="1425.1" y="733.25" width="13.6" height="57.25" fill="#9194a0"/>
<rect x="1427" y="735.25" width="9.8" height="53.25" fill="#26a69a"/>
<rect x="1449.5" y="707" width="2" height="39" fill="#26a69a"/>
<rect x="1443.7" y="730" width="13.6" height="2" fill="#9194a0"/>
<rect x="1468.1" y="713" width="2" height="27" fill="#26a69a"/>
<rect x="1462.3" y="725.5" width="13.6" height="7" fill="#9194a0"/>
<rect x="1464.2" y="727.5" width="9.8" height="3" fill="#26a69a"/>
<rect x="1486.7" y="724" width="2" height="43" fill="#ef5350"/>
<rect x="1480.7" y="725" width="14" height="13.75" fill="#ef5350"/>
<rect x="1505.3" y="720" width="2" height="31" fill="#26a69a"/>
<rect x="1499.5" y="725.5" width="13.6" height="12.75" fill="#9194a0"/>
<rect x="1501.4" y="727.5" width="9.8" height="8.75" fill="#26a69a"/>
<rect x="1523.9" y="717" width="2" height="21" fill="#ef5350"/>
<rect x="1517.9" y="725" width="14" height="10.75" fill="#ef5350"/>
<rect x="1542.5" y="703" width="2" height="58" fill="#26a69a"/>
<rect x="1536.7" y="723.5" width="13.6" height="12" fill="#9194a0"/>
<rect x="1538.6" y="725.5" width="9.8" height="8" fill="#26a69a"/>
<rect x="1561.1" y="720" width="2" height="45" fill="#ef5350"/>
<rect x="1555.1" y="723" width="14" height="10.75" fill="#ef5350"/>
<rect x="1579.7" y="727" width="2" height="30" fill="#ef5350"/>
<rect x="1573.7" y="733" width="14" height="15.75" fill="#ef5350"/>
<rect x="1598.3" y="741" width="2" height="27" fill="#ef5350"/>
<rect x="1592.3" y="748" width="14" height="14.75" fill="#ef5350"/>
<rect x="1616.9" y="738" width="2" height="29" fill="#26a69a"/>
<rect x="1611.1" y="742.5" width="13.6" height="20" fill="#9194a0"/>
<rect x="1613" y="744.5" width="9.8" height="16" fill="#26a69a"/>
<rect x="1635.5" y="732" width="2" height="17" fill="#26a69a"/>
<rect x="1629.7" y="738.5" width="13.6" height="4.25" fill="#9194a0"/>
<rect x="1631.6" y="740" width="9.8" height="1.25" fill="#26a69a"/>
<rect x="1654.1" y="654" width="2" height="104" fill="#26a69a"/>
<rect x="1648.3" y="666.5" width="13.6" height="71.5" fill="#9194a0"/>
<rect x="1650.2" y="668.5" width="9.8" height="67.5" fill="#26a69a"/>
<rect x="1672.7" y="583" width="2" height="83.25" fill="#26a69a"/>
<rect x="1666.9" y="598.75" width="13.6" height="67.5" fill="#9194a0"/>
<rect x="1668.8" y="600.75" width="9.8" height="63.5" fill="#26a69a"/>
<rect x="1691.3" y="416" width="2" height="191" fill="#26a69a"/>
<rect x="1685.5" y="458.75" width="13.6" height="139.5" fill="#9194a0"/>
<rect x="1687.4" y="460.75" width="9.8" height="135.5" fill="#26a69a"/>
<rect x="1709.9" y="430" width="2" height="91" fill="#ef5350"/>
<rect x="1703.9" y="458" width="14" height="43" fill="#ef5350"/>
<rect x="1728.5" y="439" width="2" height="66" fill="#26a69a"/>
<rect x="1722.7" y="458.75" width="13.6" height="43.5" fill="#9194a0"/>
<rect x="1724.6" y="460.75" width="9.8" height="39.5" fill="#26a69a"/>
<rect x="1747.1" y="456" width="2" height="24" fill="#ef5350"/>
<rect x="1741.1" y="458" width="14" height="10.75" fill="#ef5350"/>
<rect x="1765.7" y="436" width="2" height="50" fill="#26a69a"/>
<rect x="1759.9" y="439.5" width="13.6" height="28.75" fill="#9194a0"/>
<rect x="1761.8" y="441.5" width="9.8" height="24.75" fill="#26a69a"/>
<rect x="1784.3" y="297" width="2" height="167" fill="#26a69a"/>
<rect x="1778.5" y="307.5" width="13.6" height="131.75" fill="#9194a0"/>
<rect x="1780.4" y="309.5" width="9.8" height="127.75" fill="#26a69a"/>
<rect x="1802.9" y="285" width="2" height="302" fill="#ef5350"/>
<rect x="1796.9" y="306.25" width="14" height="115.25" fill="#ef5350"/>
<rect x="1821.5" y="319" width="2" height="127" fill="#26a69a"/>
<rect x="1815.7" y="360.5" width="13.6" height="60" fill="#9194a0"/>
<rect x="1817.6" y="362.5" width="9.8" height="56" fill="#26a69a"/>
<rect x="1840.1" y="309" width="2" height="65" fill="#26a69a"/>
<rect x="1834.3" y="339.5" width="13.6" height="19.75" fill="#9194a0"/>
<rect x="1836.2" y="341.5" width="9.8" height="15.75" fill="#26a69a"/>
<rect x="1858.7" y="258" width="2" height="101" fill="#26a69a"/>
<rect x="1852.9" y="304.5" width="13.6" height="34.75" fill="#9194a0"/>
<rect x="1854.8" y="306.5" width="9.8" height="30.75" fill="#26a69a"/>
<rect x="1877.3" y="293" width="2" height="17" fill="#26a69a"/>
<rect x="1871.5" y="300.25" width="13.6" height="4" fill="#9194a0"/>
<rect x="1873.4" y="301.75" width="9.8" height="1" fill="#26a69a"/>
<rect x="1895.9" y="260" width="2" height="49" fill="#26a69a"/>
<rect x="1890.1" y="284.5" width="13.6" height="15.75" fill="#9194a0"/>
<rect x="1892" y="286.5" width="9.8" height="11.75" fill="#26a69a"/>
<rect x="1914.5" y="191" width="2" height="144" fill="#26a69a"/>
<rect x="1908.7" y="223.5" width="13.6" height="61.75" fill="#9194a0"/>
<rect x="1910.6" y="225.5" width="9.8" height="57.75" fill="#26a69a"/>
<rect x="1933.1" y="191" width="2" height="114" fill="#26a69a"/>
<rect x="1927.3" y="221.5" width="13.6" height="2" fill="#9194a0"/>
<rect x="1951.7" y="166" width="2" height="58" fill="#26a69a"/>
<rect x="1945.9" y="177.25" width="13.6" height="44.25" fill="#9194a0"/>
<rect x="1947.8" y="179.25" width="9.8" height="40.25" fill="#26a69a"/>
<rect x="1970.3" y="160" width="2" height="137" fill="#ef5350"/>
<rect x="1964.3" y="176" width="14" height="46.75" fill="#ef5350"/>
<rect x="1988.9" y="196" width="2" height="181" fill="#ef5350"/>
<rect x="1982.9" y="222" width="14" height="48.75" fill="#ef5350"/>
<rect x="2007.5" y="255" width="2" height="138" fill="#ef5350"/>
<rect x="2001.5" y="269" width="14" height="111.25" fill="#ef5350"/>
<rect x="2026.1" y="286" width="2" height="113" fill="#26a69a"/>
<rect x="2020.3" y="299.5" width="13.6" height="79.75" fill="#9194a0"/>
<rect x="2022.2" y="301.5" width="9.8" height="75.75" fill="#26a69a"/>
<rect x="2044.7" y="286" width="2" height="61" fill="#ef5350"/>
<rect x="2038.7" y="299" width="14" height="22.75" fill="#ef5350"/>
<rect x="2063.3" y="307" width="2" height="173" fill="#ef5350"/>
<rect x="2057.3" y="320" width="14" height="149.75" fill="#ef5350"/>
<rect x="2081.9" y="306" width="2" height="194" fill="#26a69a"/>
<rect x="2076.1" y="312.5" width="13.6" height="156.75" fill="#9194a0"/>
<rect x="2078" y="314.5" width="9.8" height="152.75" fill="#26a69a"/>
<rect x="2100.5" y="304" width="2" height="97" fill="#ef5350"/>
<rect x="2094.5" y="312" width="14" height="64.75" fill="#ef5350"/>
<rect x="2119.1" y="348" width="2" height="112" fill="#ef5350"/>
<rect x="2113.1" y="376" width="14" height="44.75" fill="#ef5350"/>
<rect x="2137.7" y="362" width="2" height="80" fill="#26a69a"/>
<rect x="2131.9" y="414.5" width="13.6" height="5" fill="#9194a0"/>
<rect x="2133.8" y="416" width="9.8" height="2" fill="#26a69a"/>
<rect x="2156.3" y="321" width="2" height="99" fill="#26a69a"/>
<rect x="2150.5" y="332.5" width="13.6" height="82.75" fill="#9194a0"/>
<rect x="2152.4" y="334.5" width="9.8" height="78.75" fill="#26a69a"/>
<rect x="2174.9" y="229" width="2" height="124" fill="#26a69a"/>
<rect x="2169.1" y="266.5" width="13.6" height="64.75" fill="#9194a0"/>
<rect x="2171" y="268.5" width="9.8" height="60.75" fill="#26a69a"/>
<rect x="2193.5" y="219" width="2" height="57" fill="#26a69a"/>
<rect x="2187.7" y="258.5" width="13.6" height="7" fill="#9194a0"/>
<rect x="2189.6" y="260.5" width="9.8" height="3" fill="#26a69a"/>
<rect x="2212.1" y="212" width="2" height="90" fill="#ef5350"/>
<rect x="2206.1" y="258" width="14" height="14.75" fill="#ef5350"/>
<rect x="2230.7" y="219" width="2" height="69" fill="#26a69a"/>
<rect x="2224.9" y="239.5" width="13.6" height="32.75" fill="#9194a0"/>
<rect x="2226.8" y="241.5" width="9.8" height="28.75" fill="#26a69a"/>
<rect x="2249.3" y="236" width="2" height="47" fill="#ef5350"/>
<rect x="2243.3" y="238" width="14" height="21.75" fill="#ef5350"/>
<rect x="2267.9" y="249" width="2" height="20" fill="#ef5350"/>
<rect x="2261.9" y="259" width="14" height="8.75" fill="#ef5350"/>
<rect x="2286.5" y="222" width="2" height="45" fill="#26a69a"/>
<rect x="2280.7" y="223.75" width="13.6" height="43.25" fill="#9194a0"/>
<rect x="2282.6" y="225.75" width="9.8" height="39.25" fill="#26a69a"/>
<rect x="2305.1" y="223" width="2" height="86" fill="#ef5350"/>
<rect x="2299.1" y="224" width="14" height="42.75" fill="#ef5350"/>
<rect x="2323.7" y="267" width="2" height="134" fill="#ef5350"/>
<rect x="2317.7" y="267" width="14" height="108.75" fill="#ef5350"/>
<rect x="2342.3" y="337" width="2" height="63" fill="#26a69a"/>
<rect x="2336.5" y="363.75" width="13.6" height="10.5" fill="#9194a0"/>
<rect x="2338.4" y="365.75" width="9.8" height="6.5" fill="#26a69a"/>
<rect x="2360.9" y="276" width="2" height="110" fill="#26a69a"/>
<rect x="2355.1" y="297.75" width="13.6" height="64" fill="#9194a0"/>
<rect x="2357" y="299.75" width="9.8" height="60" fill="#26a69a"/>
<rect x="2379.5" y="290" width="2" height="72" fill="#ef5350"/>
<rect x="2373.5" y="296" width="14" height="18.75" fill="#ef5350"/>
<rect x="2398.1" y="266" width="2" height="57" fill="#26a69a"/>
<rect x="2392.3" y="286.75" width="13.6" height="27.5" fill="#9194a0"/>
<rect x="2394.2" y="288.75" width="9.8" height="23.5" fill="#26a69a"/>
<rect x="2416.7" y="249" width="2" height="39" fill="#26a69a"/>
<rect x="2410.9" y="275.5" width="13.6" height="10.75" fill="#9194a0"/>
<rect x="2412.8" y="277.5" width="9.8" height="6.75" fill="#26a69a"/>
<rect x="2435.3" y="192" width="2" height="91" fill="#26a69a"/>
<rect x="2429.5" y="225.5" width="13.6" height="49.75" fill="#9194a0"/>
<rect x="2431.4" y="227.5" width="9.8" height="45.75" fill="#26a69a"/>
<rect x="2453.9" y="222" width="2" height="83" fill="#ef5350"/>
<rect x="2447.9" y="225" width="14" height="55.75" fill="#ef5350"/>
<rect x="2472.5" y="236" width="2" height="97" fill="#26a69a"/>
<rect x="2466.7" y="252.5" width="13.6" height="27.75" fill="#9194a0"/>
<rect x="2468.6" y="254.5" width="9.8" height="23.75" fill="#26a69a"/>
<rect x="2491.1" y="230" width="2" height="43" fill="#ef5350"/>
<rect x="2485.1" y="252" width="14" height="7.75" fill="#ef5350"/>
<rect x="2509.7" y="230" width="2" height="157" fill="#ef5350"/>
<rect x="2503.7" y="259" width="14" height="68.75" fill="#ef5350"/>
<rect x="2528.3" y="300" width="2" height="179" fill="#ef5350"/>
<rect x="2522.3" y="327" width="14" height="66.75" fill="#ef5350"/>
<rect x="2546.9" y="356" width="2" height="95" fill="#26a69a"/>
<rect x="2541.1" y="364.25" width="13.6" height="28.75" fill="#9194a0"/>
<rect x="2543" y="366.25" width="9.8" height="24.75" fill="#26a69a"/>
<rect x="2565.5" y="336" width="2" height="123" fill="#ef5350"/>
<rect x="2559.5" y="364" width="14" height="67.75" fill="#ef5350"/>
<rect x="2584.1" y="405" width="2" height="71" fill="#26a69a"/>
<rect x="2578.3" y="419.5" width="13.6" height="10.75" fill="#9194a0"/>
<rect x="2580.2" y="421.5" width="9.8" height="6.75" fill="#26a69a"/>
<rect x="2602.7" y="402" width="2" height="125" fill="#ef5350"/>
<rect x="2596.7" y="419" width="14" height="67.75" fill="#ef5350"/>
<rect x="2621.3" y="409" width="2" height="89" fill="#26a69a"/>
<rect x="2615.5" y="428.25" width="13.6" height="58" fill="#9194a0"/>
<rect x="2617.4" y="430.25" width="9.8" height="54" fill="#26a69a"/>
<rect x="2639.9" y="375" width="2" height="154" fill="#26a69a"/>
<rect x="2634.1" y="418.5" width="13.6" height="9.75" fill="#9194a0"/>
<rect x="2636" y="420.5" width="9.8" height="5.75" fill="#26a69a"/>
<rect x="2658.5" y="374" width="2" height="63" fill="#26a69a"/>
<rect x="2652.7" y="386.5" width="13.6" height="31.75" fill="#9194a0"/>
<rect x="2654.6" y="388.5" width="9.8" height="27.75" fill="#26a69a"/>
<rect x="2677.1" y="367" width="2" height="40" fill="#ef5350"/>
<rect x="2671.1" y="386" width="14" height="2.75" fill="#ef5350"/>
<rect x="2695.7" y="330" width="2" height="71" fill="#26a69a"/>
<rect x="2689.9" y="341.5" width="13.6" height="46.5" fill="#9194a0"/>
<rect x="2691.8" y="343.5" width="9.8" height="42.5" fill="#26a69a"/>
<rect x="2714.3" y="331" width="2" height="36" fill="#ef5350"/>
<rect x="2708.3" y="341" width="14" height="10.75" fill="#ef5350"/>
<rect x="2732.9" y="335" width="2" height="91" fill="#ef5350"/>
<rect x="2726.9" y="351" width="14" height="57.75" fill="#ef5350"/>
<rect x="2751.5" y="382" width="2" height="65" fill="#26a69a"/>
<rect x="2745.7" y="402.5" width="13.6" height="5.75" fill="#9194a0"/>
<rect x="2747.6" y="404" width="9.8" height="2.75" fill="#26a69a"/>
<rect x="2770.1" y="395" width="2" height="38" fill="#ef5350"/>
<rect x="2764.1" y="402" width="14" height="20.75" fill="#ef5350"/>
<rect x="2788.7" y="417" width="2" height="40" fill="#ef5350"/>
<rect x="2782.7" y="421" width="14" height="7.75" fill="#ef5350"/>
<rect x="2807.3" y="404" width="2" height="43" fill="#ef5350"/>
<rect x="2801.3" y="428" width="14" height="10.75" fill="#ef5350"/>
<rect x="2825.9" y="411" width="2" height="63" fill="#26a69a"/>
<rect x="2820.1" y="420.5" width="13.6" height="18" fill="#9194a0"/>
<rect x="2822" y="422.5" width="9.8" height="14" fill="#26a69a"/>
<rect x="2844.5" y="397" width="2" height="152" fill="#ef5350"/>
<rect x="2838.5" y="419" width="14" height="84.75" fill="#ef5350"/>
<rect x="2863.1" y="499" width="2" height="112" fill="#ef5350"/>
<rect x="2857.1" y="503" width="14" height="58.75" fill="#ef5350"/>
<rect x="2881.7" y="529" width="2" height="70" fill="#26a69a"/>
<rect x="2875.9" y="543.5" width="13.6" height="18.75" fill="#9194a0"/>
<rect x="2877.8" y="545.5" width="9.8" height="14.75" fill="#26a69a"/>
<rect x="2900.3" y="432" width="2" height="118" fill="#26a69a"/>
<rect x="2894.5" y="444.5" width="13.6" height="99.75" fill="#9194a0"/>
<rect x="2896.4" y="446.5" width="9.8" height="95.75" fill="#26a69a"/>
<rect x="2918.9" y="401" width="2" height="51" fill="#26a69a"/>
<rect x="2913.1" y="418.25" width="13.6" height="25" fill="#9194a0"/>
<rect x="2915" y="420.25" width="9.8" height="21" fill="#26a69a"/>
<rect x="2937.5" y="400" width="2" height="44" fill="#26a69a"/>
<rect x="2931.7" y="415.5" width="13.6" height="2" fill="#9194a0"/>
<rect x="2956.1" y="375" width="2" height="74" fill="#ef5350"/>
<rect x="2950.1" y="416" width="14" height="21.75" fill="#ef5350"/>
<rect x="2974.7" y="405" width="2" height="56" fill="#ef5350"/>
<rect x="2968.7" y="437" width="14" height="22.75" fill="#ef5350"/>
<rect x="2993.3" y="442" width="2" height="57" fill="#ef5350"/>
<rect x="2987.3" y="459" width="14" height="32.75" fill="#ef5350"/>
<rect x="3011.9" y="431" width="2" height="74" fill="#26a69a"/>
<rect x="3006.1" y="440.25" width="13.6" height="51" fill="#9194a0"/>
<rect x="3008" y="442.25" width="9.8" height="47" fill="#26a69a"/>
<rect x="3030.5" y="430" width="2" height="86" fill="#ef5350"/>
<rect x="3024.5" y="440" width="14" height="58.75" fill="#ef5350"/>
<rect x="3049.1" y="480" width="2" height="26" fill="#ef5350"/>
<rect x="3043.1" y="495.5" width="14" height="2" fill="#ef5350"/>
<rect x="3067.7" y="470" width="2" height="33" fill="#26a69a"/>
<rect x="3061.9" y="482.25" width="13.6" height="16" fill="#9194a0"/>
<rect x="3063.8" y="484.25" width="9.8" height="12" fill="#26a69a"/>
<rect x="3086.3" y="430" width="2" height="70" fill="#26a69a"/>
<rect x="3080.5" y="445.5" width="13.6" height="35.75" fill="#9194a0"/>
<rect x="3082.4" y="447.5" width="9.8" height="31.75" fill="#26a69a"/>
<rect x="3104.9" y="440" width="2" height="56" fill="#ef5350"/>
<rect x="3098.9" y="443" width="14" height="36.75" fill="#ef5350"/>
<rect x="3123.5" y="352" width="2" height="133" fill="#26a69a"/>
<rect x="3117.7" y="360.5" width="13.6" height="118.75" fill="#9194a0"/>
<rect x="3119.6" y="362.5" width="9.8" height="114.75" fill="#26a69a"/>
<rect x="3142.1" y="348" width="2" height="26" fill="#ef5350"/>
<rect x="3136.1" y="360" width="14" height="2.5" fill="#ef5350"/>
</g>
<line x1="27" y1="362" x2="3326" y2="362" stroke="#f0403d" stroke-width="2" stroke-dasharray="2 4"/>
<g clip-path="url(#cpRsi)">
<rect x="25" y="1373" width="3419" height="129" fill="#7e57c2" fill-opacity="0.1"/>
<path d="M24.81,1373 L24.81,1398.75 L36.9,1388 L55.5,1376.75 L74.1,1370.75 L92.7,1348.75 L111.3,1335 L129.9,1343 L148.5,1355.5 L167.1,1348.25 L185.7,1360 L204.3,1359.25 L222.9,1414.5 L241.5,1411.75 L260.1,1394.25 L278.7,1393 L297.3,1413.75 L315.9,1410 L334.5,1425.75 L353.1,1408 L371.7,1415 L390.3,1397.5 L408.9,1395.75 L427.5,1393 L446.1,1395 L464.7,1407.5 L483.3,1403 L501.9,1426.75 L520.5,1413 L539.1,1428.75 L557.7,1436.75 L576.3,1434.5 L594.9,1432.5 L613.5,1402.5 L632.1,1393.25 L650.7,1430 L669.3,1413.75 L687.9,1413.75 L706.5,1415.75 L725.1,1417 L743.7,1382 L762.3,1397 L780.9,1391.75 L799.5,1397.5 L818.1,1449.25 L836.7,1448.25 L855.3,1462 L873.9,1451.75 L892.5,1442 L911.1,1447.5 L929.7,1464.5 L948.3,1458.75 L966.9,1458 L985.5,1460 L1004.1,1483.75 L1022.7,1477.5 L1041.3,1474.25 L1059.9,1475.75 L1078.5,1442.5 L1097.1,1436.75 L1115.7,1439.5 L1134.3,1420.5 L1152.9,1426.75 L1171.5,1433 L1190.1,1424.25 L1208.7,1423.75 L1227.3,1426.75 L1245.9,1435 L1264.5,1433.75 L1283.1,1425.75 L1301.7,1403.75 L1320.3,1388.75 L1338.9,1368.75 L1357.5,1363.75 L1376.1,1359.25 L1394.7,1346.25 L1413.3,1349.5 L1431.9,1336.25 L1450.5,1335.5 L1469.1,1333.75 L1487.7,1346.75 L1506.3,1343.75 L1524.9,1353.25 L1543.5,1349.5 L1562.1,1360 L1580.7,1375.75 L1599.3,1390 L1617.9,1380 L1636.5,1378.25 L1655.1,1351.75 L1673.7,1335 L1692.3,1317.5 L1710.9,1343.25 L1729.5,1337.5 L1748.1,1343.25 L1766.7,1338.75 L1785.3,1323.75 L1803.9,1374.5 L1822.5,1365.5 L1841.1,1361.75 L1859.7,1357 L1878.3,1356.25 L1896.9,1353.75 L1915.5,1345.75 L1934.1,1345.5 L1952.7,1339.5 L1971.3,1361.25 L1989.9,1382 L2008.5,1420.75 L2027.1,1403 L2045.7,1410 L2064.3,1448.25 L2082.9,1415.75 L2101.5,1429.5 L2120.1,1439.25 L2138.7,1437.5 L2157.3,1422 L2175.9,1409.25 L2194.5,1408 L2213.1,1411.75 L2231.7,1405 L2250.3,1410.75 L2268.9,1413.75 L2287.5,1403.75 L2306.1,1417.5 L2324.7,1445.75 L2343.3,1442.5 L2361.9,1426.25 L2380.5,1430.75 L2399.1,1424.25 L2417.7,1421.25 L2436.3,1409.25 L2454.9,1425.75 L2473.5,1419.25 L2492.1,1421.75 L2510.7,1441.75 L2529.3,1458.75 L2547.9,1450 L2566.5,1465.75 L2585.1,1462.5 L2603.7,1477 L2622.3,1458.25 L2640.9,1455.75 L2659.5,1446.25 L2678.1,1447 L2696.7,1431.75 L2715.3,1435 L2733.9,1452 L2752.5,1450 L2771.1,1456.25 L2789.7,1458.25 L2808.3,1461.75 L2826.9,1453.75 L2845.5,1478.25 L2864.1,1492.5 L2882.7,1484.5 L2901.3,1447 L2919.9,1439.25 L2938.5,1438.25 L2957.1,1445 L2975.7,1452.5 L2994.3,1462.5 L3012.9,1442.5 L3031.5,1460.75 L3050.1,1460.75 L3068.7,1454.5 L3087.3,1439.25 L3105.9,1451.75 L3124.5,1413.75 L3143.1,1414.5 L3143.1,1373 Z" fill="url(#gg)" clip-path="url(#cp70)"/>
<line x1="25.3" y1="1373" x2="3444" y2="1373" stroke="#6e707e" stroke-width="2" stroke-dasharray="9.8 12.2"/>
<line x1="25.3" y1="1438" x2="3444" y2="1438" stroke="#6e707e" stroke-width="2" stroke-dasharray="9.8 12.2" stroke-opacity="0.6"/>
<line x1="25.3" y1="1502" x2="3444" y2="1502" stroke="#6e707e" stroke-width="2" stroke-dasharray="9.8 12.2"/>
<polyline points="24.81,1398.75 36.9,1388 55.5,1376.75 74.1,1370.75 92.7,1348.75 111.3,1335 129.9,1343 148.5,1355.5 167.1,1348.25 185.7,1360 204.3,1359.25 222.9,1414.5 241.5,1411.75 260.1,1394.25 278.7,1393 297.3,1413.75 315.9,1410 334.5,1425.75 353.1,1408 371.7,1415 390.3,1397.5 408.9,1395.75 427.5,1393 446.1,1395 464.7,1407.5 483.3,1403 501.9,1426.75 520.5,1413 539.1,1428.75 557.7,1436.75 576.3,1434.5 594.9,1432.5 613.5,1402.5 632.1,1393.25 650.7,1430 669.3,1413.75 687.9,1413.75 706.5,1415.75 725.1,1417 743.7,1382 762.3,1397 780.9,1391.75 799.5,1397.5 818.1,1449.25 836.7,1448.25 855.3,1462 873.9,1451.75 892.5,1442 911.1,1447.5 929.7,1464.5 948.3,1458.75 966.9,1458 985.5,1460 1004.1,1483.75 1022.7,1477.5 1041.3,1474.25 1059.9,1475.75 1078.5,1442.5 1097.1,1436.75 1115.7,1439.5 1134.3,1420.5 1152.9,1426.75 1171.5,1433 1190.1,1424.25 1208.7,1423.75 1227.3,1426.75 1245.9,1435 1264.5,1433.75 1283.1,1425.75 1301.7,1403.75 1320.3,1388.75 1338.9,1368.75 1357.5,1363.75 1376.1,1359.25 1394.7,1346.25 1413.3,1349.5 1431.9,1336.25 1450.5,1335.5 1469.1,1333.75 1487.7,1346.75 1506.3,1343.75 1524.9,1353.25 1543.5,1349.5 1562.1,1360 1580.7,1375.75 1599.3,1390 1617.9,1380 1636.5,1378.25 1655.1,1351.75 1673.7,1335 1692.3,1317.5 1710.9,1343.25 1729.5,1337.5 1748.1,1343.25 1766.7,1338.75 1785.3,1323.75 1803.9,1374.5 1822.5,1365.5 1841.1,1361.75 1859.7,1357 1878.3,1356.25 1896.9,1353.75 1915.5,1345.75 1934.1,1345.5 1952.7,1339.5 1971.3,1361.25 1989.9,1382 2008.5,1420.75 2027.1,1403 2045.7,1410 2064.3,1448.25 2082.9,1415.75 2101.5,1429.5 2120.1,1439.25 2138.7,1437.5 2157.3,1422 2175.9,1409.25 2194.5,1408 2213.1,1411.75 2231.7,1405 2250.3,1410.75 2268.9,1413.75 2287.5,1403.75 2306.1,1417.5 2324.7,1445.75 2343.3,1442.5 2361.9,1426.25 2380.5,1430.75 2399.1,1424.25 2417.7,1421.25 2436.3,1409.25 2454.9,1425.75 2473.5,1419.25 2492.1,1421.75 2510.7,1441.75 2529.3,1458.75 2547.9,1450 2566.5,1465.75 2585.1,1462.5 2603.7,1477 2622.3,1458.25 2640.9,1455.75 2659.5,1446.25 2678.1,1447 2696.7,1431.75 2715.3,1435 2733.9,1452 2752.5,1450 2771.1,1456.25 2789.7,1458.25 2808.3,1461.75 2826.9,1453.75 2845.5,1478.25 2864.1,1492.5 2882.7,1484.5 2901.3,1447 2919.9,1439.25 2938.5,1438.25 2957.1,1445 2975.7,1452.5 2994.3,1462.5 3012.9,1442.5 3031.5,1460.75 3050.1,1460.75 3068.7,1454.5 3087.3,1439.25 3105.9,1451.75 3124.5,1413.75 3143.1,1414.5" fill="none" stroke="#7e57c2" stroke-width="2.6" stroke-linejoin="round" stroke-linecap="round"/>
<polyline points="25,1403.25 37,1403 55.5,1401.25 74.25,1399.5 92.75,1396.25 111.5,1390.5 130,1385.75 148.75,1382 167.25,1378.25 185.75,1375 204.5,1372 223,1372 241.5,1372.5 260.25,1372 278.75,1371.25 297.5,1373.25 316,1375.75 334.5,1379.5 353.25,1383.75 371.75,1388.75 390.5,1393 409,1395.5 427.5,1398.75 446.25,1401.25 464.75,1405 483.5,1404.25 502,1405.75 520.5,1407 539.25,1409.25 557.75,1410.75 576.5,1412.5 595,1413.25 613.5,1413 632.25,1411.25 650.75,1414.25 669.5,1415.5 688,1416.75 706.5,1418 725.25,1418.75 743.75,1417.5 762.5,1415.5 781,1413.75 799.5,1411.25 818.25,1412.5 836.75,1413.75 855.5,1415.75 874,1418.75 892.5,1422 911.25,1423.75 929.75,1427 948.5,1430 967,1433 985.5,1436.25 1004.25,1442.5 1022.75,1448.75 1041.5,1455 1060,1461.25 1078.5,1460.5 1097.25,1459.5 1115.75,1458 1134.5,1456.25 1153,1455 1171.5,1453.75 1190.25,1450.75 1208.75,1448 1246,1443.75 1283.25,1437 1301.75,1432.5 1320.5,1426.25 1339,1421.75 1357.5,1416.25 1376.25,1410 1394.75,1405 1413.5,1398.75 1432,1392 1450.5,1385 1469.25,1379.5 1487.75,1373.75 1506.5,1367 1525,1361.75 1543.5,1356.25 1562.25,1353 1580.75,1352 1599.5,1353.25 1618,1354.5 1636.5,1355.75 1655.25,1356.25 1673.75,1355 1692.5,1353.75 1711,1354.5 1729.75,1354.5 1748.25,1354.5 1766.75,1353.75 1785.5,1352 1804,1353.75 1822.5,1353.75 1841.25,1352.5 1859.75,1350.5 1878.5,1348.75 1897,1347 1915.5,1346.75 1934.25,1347 1952.75,1348.75 1971.5,1350 1990,1353.25 2008.5,1359.5 2027.25,1364.25 2045.75,1370.75 2064.5,1375 2083,1378.75 2101.5,1383.75 2120.25,1389.25 2138.75,1395 2157.5,1399.5 2176,1404.5 2194.5,1408.25 2213.25,1413.75 2231.75,1417 2250.5,1419.25 2269,1418.75 2287.5,1418.75 2306.25,1419.25 2324.75,1419.25 2343.5,1421.25 2362,1420.75 2380.5,1420.5 2399.25,1419.5 2417.75,1419.25 2436.5,1419.25 2455,1420.75 2473.5,1421.25 2492.25,1422.5 2510.75,1425 2529.5,1428.25 2548,1431.75 2566.5,1435 2585.25,1435.75 2603.75,1438.25 2622.5,1440.75 2641,1442.5 2659.5,1444.25 2678.25,1445.75 2696.75,1447.5 2715.5,1448 2734,1450.5 2752.5,1451.75 2771.25,1453.25 2789.75,1453.25 2808.5,1454.25 2827,1453 2845.5,1454.5 2864.25,1455.5 2882.75,1457.5 2901.5,1456.75 2920,1456.25 2938.5,1455.75 2957.25,1456.75 2975.75,1457.5 2994.5,1458.75 3013,1458 3031.5,1458.25 3050.25,1458.25 3068.75,1457.5 3087.5,1456.75 3106,1455 3124.5,1449.5 3143.25,1444.25" fill="none" stroke="#ffeb3b" stroke-width="2.6" stroke-linejoin="round" stroke-linecap="round"/>
</g>
<rect x="25" y="1304" width="3578" height="2" fill="#e0e3eb"/>
<rect x="24.5" y="66.5" width="3578.5" height="1518.0" fill="none" stroke="#e0e3eb" stroke-width="1.6"/>
<rect x="3443" y="67" width="2" height="1517.5" fill="#3f4248"/>
<rect x="25" y="1514.5" width="3578" height="2" fill="#3f4248"/>
<text x="3464.5" y="216.7" font-size="27.6" fill="#555555" stroke="#555555" stroke-width="0.5" textLength="114.5" lengthAdjust="spacingAndGlyphs">72000.00</text>
<text x="3464.5" y="321.3" font-size="27.6" fill="#555555" stroke="#555555" stroke-width="0.5" textLength="114.5" lengthAdjust="spacingAndGlyphs">68000.00</text>
<text x="3464.5" y="425.9" font-size="27.6" fill="#555555" stroke="#555555" stroke-width="0.5" textLength="114.5" lengthAdjust="spacingAndGlyphs">64000.00</text>
<text x="3464.5" y="530.5" font-size="27.6" fill="#555555" stroke="#555555" stroke-width="0.5" textLength="114.5" lengthAdjust="spacingAndGlyphs">60000.00</text>
<text x="3464.5" y="635.1" font-size="27.6" fill="#555555" stroke="#555555" stroke-width="0.5" textLength="114.5" lengthAdjust="spacingAndGlyphs">56000.00</text>
<text x="3464.5" y="739.7" font-size="27.6" fill="#555555" stroke="#555555" stroke-width="0.5" textLength="114.5" lengthAdjust="spacingAndGlyphs">52000.00</text>
<text x="3464.5" y="844.3" font-size="27.6" fill="#555555" stroke="#555555" stroke-width="0.5" textLength="114.5" lengthAdjust="spacingAndGlyphs">48000.00</text>
<text x="3464.5" y="948.9" font-size="27.6" fill="#555555" stroke="#555555" stroke-width="0.5" textLength="114.5" lengthAdjust="spacingAndGlyphs">44000.00</text>
<text x="3464.5" y="1053.5" font-size="27.6" fill="#555555" stroke="#555555" stroke-width="0.5" textLength="114.5" lengthAdjust="spacingAndGlyphs">40000.00</text>
<text x="3464.5" y="1158.1" font-size="27.6" fill="#555555" stroke="#555555" stroke-width="0.5" textLength="114.5" lengthAdjust="spacingAndGlyphs">36000.00</text>
<text x="3464.5" y="1262.7" font-size="27.6" fill="#555555" stroke="#555555" stroke-width="0.5" textLength="114.5" lengthAdjust="spacingAndGlyphs">32000.00</text>
<text x="3461" y="1367.5" font-size="27.6" fill="#555555" stroke="#555555" stroke-width="0.5" textLength="69.5" lengthAdjust="spacingAndGlyphs">75.00</text>
<text x="3461" y="1447.5" font-size="27.6" fill="#555555" stroke="#555555" stroke-width="0.5" textLength="69.5" lengthAdjust="spacingAndGlyphs">50.00</text>
<path d="M3443,173.25 H3587 Q3591,173.25 3591,177.25 V208.75 Q3591,212.75 3587,212.75 H3443 Z" fill="#2962ff"/>
<text x="3464.5" y="202.5" font-size="27.6" fill="#fff" stroke="#fff" stroke-width="0.5" textLength="114.5" lengthAdjust="spacingAndGlyphs">72548.83</text>
<path d="M3443,254.25 H3587 Q3591,254.25 3591,258.25 V289.75 Q3591,293.75 3587,293.75 H3443 Z" fill="#2962ff"/>
<text x="3464.5" y="283.5" font-size="27.6" fill="#fff" stroke="#fff" stroke-width="0.5" textLength="114.5" lengthAdjust="spacingAndGlyphs">69446.69</text>
<path d="M3443,502.45 H3587 Q3591,502.45 3591,506.45 V537.95 Q3591,541.95 3587,541.95 H3443 Z" fill="#2962ff"/>
<text x="3464.5" y="531.7" font-size="27.6" fill="#fff" stroke="#fff" stroke-width="0.5" textLength="114.5" lengthAdjust="spacingAndGlyphs">59963.47</text>
<path d="M3443,564.45 H3587 Q3591,564.45 3591,568.45 V599.95 Q3591,603.95 3587,603.95 H3443 Z" fill="#2962ff"/>
<text x="3464.5" y="593.7" font-size="27.6" fill="#fff" stroke="#fff" stroke-width="0.5" textLength="114.5" lengthAdjust="spacingAndGlyphs">57593.75</text>
<path d="M3443,696.55 H3587 Q3591,696.55 3591,700.55 V732.05 Q3591,736.05 3587,736.05 H3443 Z" fill="#2962ff"/>
<text x="3464.5" y="725.8" font-size="27.6" fill="#fff" stroke="#fff" stroke-width="0.5" textLength="114.5" lengthAdjust="spacingAndGlyphs">52524.62</text>
<path d="M3443,341.8 H3587 Q3591,341.8 3591,345.8 V410 Q3591,414 3587,414 H3443 Z" fill="#ef5350"/>
<text x="3464.5" y="372" font-size="27.6" fill="#fff" stroke="#fff" stroke-width="0.5" textLength="114.5" lengthAdjust="spacingAndGlyphs">66090.43</text>
<text x="3466.5" y="404.4" font-size="25.4" fill="#fff" stroke="#fff" stroke-width="0.5" textLength="108" lengthAdjust="spacingAndGlyphs" fill-opacity="0.72" stroke-opacity="0.72">16:28:48</text>
<path d="M3441,341.8 H3329 Q3325,341.8 3325,345.8 V377.8 Q3325,381.8 3329,381.8 H3441 Z" fill="#ef5350"/>
<text x="3335.5" y="372" font-size="27.6" fill="#fff" stroke="#fff" stroke-width="0.5" textLength="94" lengthAdjust="spacingAndGlyphs">BTCUSD</text>
<rect x="3452.8" y="76.8" width="140.4" height="64" rx="9" fill="#fff" stroke="#e0e3eb" stroke-width="1.5"/>
<text x="3475.5" y="117.8" font-size="24.6" fill="#131722" stroke="#131722" stroke-width="0.5" textLength="47" lengthAdjust="spacingAndGlyphs">USD</text>
<g clip-path="url(#cpTime)">
<text x="13.9" y="1560.3" font-size="26" fill="#555555" stroke="#555555" stroke-width="0.5" textLength="46" lengthAdjust="spacingAndGlyphs">Dec</text>
<text x="339.6" y="1560.3" font-size="26" fill="#555555" stroke="#555555" stroke-width="0.5" textLength="27" lengthAdjust="spacingAndGlyphs">18</text>
<text x="584.5" y="1560.3" font-size="26" fill="#555555" stroke="#555555" stroke-width="0.5" textLength="58" lengthAdjust="spacingAndGlyphs" font-weight="bold">2024</text>
<text x="860.4" y="1560.3" font-size="26" fill="#555555" stroke="#555555" stroke-width="0.5" textLength="27" lengthAdjust="spacingAndGlyphs">15</text>
<text x="1168.35" y="1560.3" font-size="26" fill="#555555" stroke="#555555" stroke-width="0.5" textLength="43.5" lengthAdjust="spacingAndGlyphs">Feb</text>
<text x="1381.2" y="1560.3" font-size="26" fill="#555555" stroke="#555555" stroke-width="0.5" textLength="27" lengthAdjust="spacingAndGlyphs">12</text>
<text x="1707" y="1560.3" font-size="26" fill="#555555" stroke="#555555" stroke-width="0.5" textLength="45" lengthAdjust="spacingAndGlyphs">Mar</text>
<text x="2032.2" y="1560.3" font-size="26" fill="#555555" stroke="#555555" stroke-width="0.5" textLength="27" lengthAdjust="spacingAndGlyphs">18</text>
<text x="2286.1" y="1560.3" font-size="26" fill="#555555" stroke="#555555" stroke-width="0.5" textLength="40" lengthAdjust="spacingAndGlyphs">Apr</text>
<text x="2553" y="1560.3" font-size="26" fill="#555555" stroke="#555555" stroke-width="0.5" textLength="27" lengthAdjust="spacingAndGlyphs">15</text>
<text x="2839.85" y="1560.3" font-size="26" fill="#555555" stroke="#555555" stroke-width="0.5" textLength="48.5" lengthAdjust="spacingAndGlyphs">May</text>
<text x="3073.8" y="1560.3" font-size="26" fill="#555555" stroke="#555555" stroke-width="0.5" textLength="27" lengthAdjust="spacingAndGlyphs">13</text>
<text x="3419.2" y="1560.3" font-size="26" fill="#555555" stroke="#555555" stroke-width="0.5" textLength="43" lengthAdjust="spacingAndGlyphs">Jun</text>
</g>
<text x="25" y="47.5" font-size="28.2" fill="#131722" stroke="#131722" stroke-width="0.5" textLength="984" lengthAdjust="spacingAndGlyphs">Jake_Simmons published on TradingView.com, May 16, 2024 03:31 UTC-4</text>
<text x="43.8" y="115" font-size="28.2" fill="#555555" stroke="#555555" stroke-width="0.5" textLength="460" lengthAdjust="spacingAndGlyphs">Bitcoin / U.S. Dollar, 1D, BINANCE</text>
<text x="522" y="115" font-size="28.2" fill="#555555" stroke="#555555" stroke-width="0.5">O</text>
<text x="545" y="115" font-size="28.2" fill="#ef5350" stroke="#ef5350" stroke-width="0.5" textLength="116.5" lengthAdjust="spacingAndGlyphs">66166.94</text>
<text x="680" y="115" font-size="28.2" fill="#555555" stroke="#555555" stroke-width="0.5">H</text>
<text x="700" y="115" font-size="28.2" fill="#ef5350" stroke="#ef5350" stroke-width="0.5" textLength="116.5" lengthAdjust="spacingAndGlyphs">66607.73</text>
<text x="835.5" y="115" font-size="28.2" fill="#555555" stroke="#555555" stroke-width="0.5">L</text>
<text x="850" y="115" font-size="28.2" fill="#ef5350" stroke="#ef5350" stroke-width="0.5" textLength="116.5" lengthAdjust="spacingAndGlyphs">65621.15</text>
<text x="984" y="115" font-size="28.2" fill="#555555" stroke="#555555" stroke-width="0.5">C</text>
<text x="1001.8" y="115" font-size="28.2" fill="#ef5350" stroke="#ef5350" stroke-width="0.5" textLength="116.5" lengthAdjust="spacingAndGlyphs">66090.43</text>
<text x="1139" y="115" font-size="28.2" fill="#ef5350" stroke="#ef5350" stroke-width="0.5" textLength="201" lengthAdjust="spacingAndGlyphs">−77.54 (−0.12%)</text>
<text x="45" y="157" font-size="28.2" fill="#555555" stroke="#555555" stroke-width="0.5" textLength="123" lengthAdjust="spacingAndGlyphs">Vol · BTC</text>
<text x="188" y="157" font-size="28.2" fill="#ef5350" stroke="#ef5350" stroke-width="0.5" textLength="31" lengthAdjust="spacingAndGlyphs">54</text>
<text x="43.8" y="198.6" font-size="28.2" fill="#555555" stroke="#555555" stroke-width="0.5" textLength="264.5" lengthAdjust="spacingAndGlyphs">EMA 20/50/100/200</text>
<text x="327.5" y="198.6" font-size="28.2" fill="#ff0000" stroke="#ff0000" stroke-width="0.5" textLength="116.5" lengthAdjust="spacingAndGlyphs">63232.05</text>
<text x="462.5" y="198.6" font-size="28.2" fill="#ff8000" stroke="#ff8000" stroke-width="0.5" textLength="116.5" lengthAdjust="spacingAndGlyphs">63563.53</text>
<text x="597" y="198.6" font-size="28.2" fill="#00ffff" stroke="#00ffff" stroke-width="0.5" textLength="116.5" lengthAdjust="spacingAndGlyphs">60671.88</text>
<text x="732.5" y="198.6" font-size="28.2" fill="#0000ff" stroke="#0000ff" stroke-width="0.5" textLength="116.5" lengthAdjust="spacingAndGlyphs">53499.38</text>
<text x="43.8" y="1355.5" font-size="28.2" fill="#555555" stroke="#555555" stroke-width="0.5" textLength="356" lengthAdjust="spacingAndGlyphs">RSI (14, close, SMA, 14, 2)</text>
<text x="420.5" y="1355.5" font-size="28.2" fill="#7e57c2" stroke="#7e57c2" stroke-width="0.5" textLength="70.5" lengthAdjust="spacingAndGlyphs">57.27</text>
<text x="509.5" y="1355.5" font-size="28.2" fill="#fbe53a" stroke="#fbe53a" stroke-width="0.5" textLength="70.5" lengthAdjust="spacingAndGlyphs">47.94</text>
<ellipse cx="614.25" cy="1346.0" rx="8.7" ry="9" fill="none" stroke="#555555" stroke-width="2.3"/>
<line x1="603.75" y1="1356.5" x2="625.25" y2="1335.0" stroke="#555555" stroke-width="2.1"/>
<ellipse cx="663" cy="1346.0" rx="8.7" ry="9" fill="none" stroke="#555555" stroke-width="2.3"/>
<line x1="652.5" y1="1356.5" x2="674" y2="1335.0" stroke="#555555" stroke-width="2.1"/>
<ellipse cx="712" cy="1346.0" rx="8.7" ry="9" fill="none" stroke="#555555" stroke-width="2.3"/>
<line x1="701.5" y1="1356.5" x2="723" y2="1335.0" stroke="#555555" stroke-width="2.1"/>
<ellipse cx="760.75" cy="1346.0" rx="8.7" ry="9" fill="none" stroke="#555555" stroke-width="2.3"/>
<line x1="750.25" y1="1356.5" x2="771.75" y2="1335.0" stroke="#555555" stroke-width="2.1"/>
<ellipse cx="810" cy="1346.0" rx="8.7" ry="9" fill="none" stroke="#555555" stroke-width="2.3"/>
<line x1="799.5" y1="1356.5" x2="821" y2="1335.0" stroke="#555555" stroke-width="2.1"/>
<ellipse cx="858.75" cy="1346.0" rx="8.7" ry="9" fill="none" stroke="#555555" stroke-width="2.3"/>
<line x1="848.25" y1="1356.5" x2="869.75" y2="1335.0" stroke="#555555" stroke-width="2.1"/>
<g fill="#131722">
<path d="M25.6,1615.4 H44.6 V1639.8 H35 V1625 H25.6 Z"/>
<circle cx="52.6" cy="1620.7" r="5.3"/>
<path d="M63.1,1615.4 H73.5 L63.8,1639.8 H53 Z"/>
</g>
<text x="82" y="1641.3" font-size="32.5" fill="#131722" stroke="#131722" stroke-width="0.5" textLength="176.5" lengthAdjust="spacingAndGlyphs">TradingView</text>
</svg>
</body></html>
